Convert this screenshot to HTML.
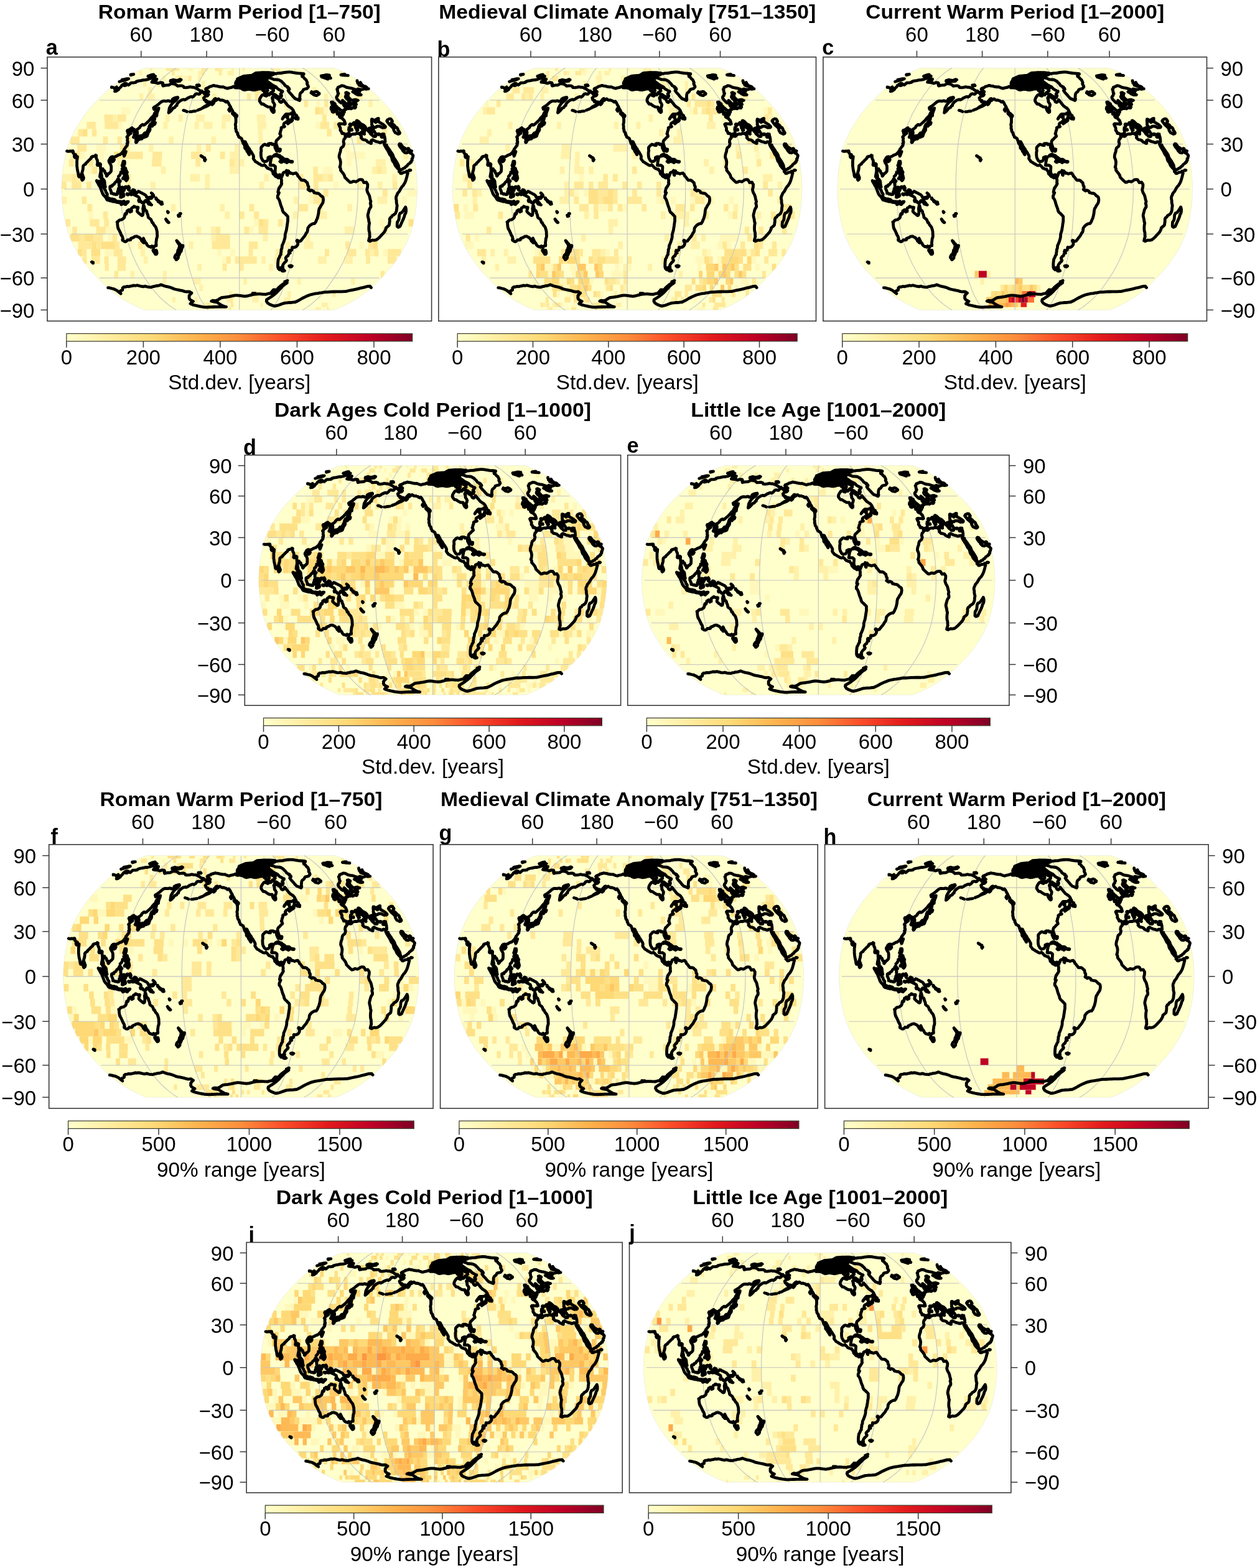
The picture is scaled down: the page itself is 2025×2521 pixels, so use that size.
<!DOCTYPE html><html><head><meta charset="utf-8"><title>Figure</title><style>html,body{margin:0;padding:0;background:#fff}svg{display:block}text{font-family:"Liberation Sans",Arial,sans-serif;fill:#000}</style></head><body>
<svg width="2025" height="2521" viewBox="0 0 2025 2521">
<defs>
<path id="ol" d="M532 -1000 L539 -996 L547 -992 L555 -987 L563 -982 L572 -976 L581 -970 L591 -963 L601 -955 L611 -948 L621 -939 L632 -931 L642 -922 L653 -913 L663 -903 L673 -894 L683 -884 L692 -874 L701 -864 L710 -854 L719 -844 L727 -833 L735 -823 L744 -812 L752 -801 L760 -790 L768 -779 L776 -768 L783 -757 L791 -746 L799 -735 L806 -723 L813 -712 L821 -700 L828 -689 L835 -677 L842 -665 L849 -653 L855 -641 L862 -630 L868 -618 L874 -606 L880 -594 L885 -581 L891 -569 L896 -557 L902 -545 L907 -533 L912 -520 L917 -508 L922 -496 L926 -483 L931 -471 L935 -459 L939 -446 L943 -434 L946 -422 L950 -409 L954 -397 L957 -384 L960 -372 L963 -360 L966 -347 L968 -335 L971 -322 L973 -310 L975 -298 L977 -285 L979 -273 L981 -260 L982 -248 L984 -236 L986 -223 L987 -211 L989 -198 L990 -186 L991 -174 L992 -161 L994 -149 L995 -136 L995 -124 L996 -112 L997 -99 L998 -87 L998 -74 L999 -62 L999 -50 L999 -37 L1000 -25 L1000 -12 L1000 0 L1000 12 L1000 25 L999 37 L999 50 L999 62 L998 74 L998 87 L997 99 L996 112 L995 124 L995 136 L994 149 L992 161 L991 174 L990 186 L989 198 L987 211 L986 223 L984 236 L982 248 L981 260 L979 273 L977 285 L975 298 L973 310 L971 322 L968 335 L966 347 L963 360 L960 372 L957 384 L954 397 L950 409 L946 422 L943 434 L939 446 L935 459 L931 471 L926 483 L922 496 L917 508 L912 520 L907 533 L902 545 L896 557 L891 569 L885 581 L880 594 L874 606 L868 618 L862 630 L855 641 L849 653 L842 665 L835 677 L828 689 L821 700 L813 712 L806 723 L799 735 L791 746 L783 757 L776 768 L768 779 L760 790 L752 801 L744 812 L735 823 L727 833 L719 844 L710 854 L701 864 L692 874 L683 884 L673 894 L663 903 L653 913 L642 922 L632 931 L621 939 L611 948 L601 955 L591 963 L581 970 L572 976 L563 982 L555 987 L547 992 L539 996 L532 1000 L-532 1000 L-539 996 L-547 992 L-555 987 L-563 982 L-572 976 L-581 970 L-591 963 L-601 955 L-611 948 L-621 939 L-632 931 L-642 922 L-653 913 L-663 903 L-673 894 L-683 884 L-692 874 L-701 864 L-710 854 L-719 844 L-727 833 L-735 823 L-744 812 L-752 801 L-760 790 L-768 779 L-776 768 L-783 757 L-791 746 L-799 735 L-806 723 L-813 712 L-821 700 L-828 689 L-835 677 L-842 665 L-849 653 L-855 641 L-862 630 L-868 618 L-874 606 L-880 594 L-885 581 L-891 569 L-896 557 L-902 545 L-907 533 L-912 520 L-917 508 L-922 496 L-926 483 L-931 471 L-935 459 L-939 446 L-943 434 L-946 422 L-950 409 L-954 397 L-957 384 L-960 372 L-963 360 L-966 347 L-968 335 L-971 322 L-973 310 L-975 298 L-977 285 L-979 273 L-981 260 L-982 248 L-984 236 L-986 223 L-987 211 L-989 198 L-990 186 L-991 174 L-992 161 L-994 149 L-995 136 L-995 124 L-996 112 L-997 99 L-998 87 L-998 74 L-999 62 L-999 50 L-999 37 L-1000 25 L-1000 12 L-1000 0 L-1000 -12 L-1000 -25 L-999 -37 L-999 -50 L-999 -62 L-998 -74 L-998 -87 L-997 -99 L-996 -112 L-995 -124 L-995 -136 L-994 -149 L-992 -161 L-991 -174 L-990 -186 L-989 -198 L-987 -211 L-986 -223 L-984 -236 L-982 -248 L-981 -260 L-979 -273 L-977 -285 L-975 -298 L-973 -310 L-971 -322 L-968 -335 L-966 -347 L-963 -360 L-960 -372 L-957 -384 L-954 -397 L-950 -409 L-946 -422 L-943 -434 L-939 -446 L-935 -459 L-931 -471 L-926 -483 L-922 -496 L-917 -508 L-912 -520 L-907 -533 L-902 -545 L-896 -557 L-891 -569 L-885 -581 L-880 -594 L-874 -606 L-868 -618 L-862 -630 L-855 -641 L-849 -653 L-842 -665 L-835 -677 L-828 -689 L-821 -700 L-813 -712 L-806 -723 L-799 -735 L-791 -746 L-783 -757 L-776 -768 L-768 -779 L-760 -790 L-752 -801 L-744 -812 L-735 -823 L-727 -833 L-719 -844 L-710 -854 L-701 -864 L-692 -874 L-683 -884 L-673 -894 L-663 -903 L-653 -913 L-642 -922 L-632 -931 L-621 -939 L-611 -948 L-601 -955 L-591 -963 L-581 -970 L-572 -976 L-563 -982 L-555 -987 L-547 -992 L-539 -996 L-532 -1000Z"/>
<clipPath id="cp"><use href="#ol"/></clipPath>
<path id="gr" d="M-787 735H787M-946 372H946M-985 0H985M-946 -372H946M-787 -735H787M-355 1000 L-365 992 L-376 982 L-388 970 L-401 955 L-414 939 L-428 922 L-442 903 L-455 884 L-467 864 L-479 844 L-490 823 L-501 801 L-512 779 L-522 757 L-532 735 L-542 712 L-552 689 L-561 665 L-570 641 L-579 618 L-586 594 L-594 569 L-601 545 L-608 520 L-614 496 L-620 471 L-626 446 L-631 422 L-636 397 L-640 372 L-644 347 L-647 322 L-650 298 L-653 273 L-655 248 L-657 223 L-659 198 L-661 174 L-662 149 L-664 124 L-665 99 L-665 74 L-666 50 L-666 25 L-667 0 L-666 -25 L-666 -50 L-665 -74 L-665 -99 L-664 -124 L-662 -149 L-661 -174 L-659 -198 L-657 -223 L-655 -248 L-653 -273 L-650 -298 L-647 -322 L-644 -347 L-640 -372 L-636 -397 L-631 -422 L-626 -446 L-620 -471 L-614 -496 L-608 -520 L-601 -545 L-594 -569 L-586 -594 L-579 -618 L-570 -641 L-561 -665 L-552 -689 L-542 -712 L-532 -735 L-522 -757 L-512 -779 L-501 -801 L-490 -823 L-479 -844 L-467 -864 L-455 -884 L-442 -903 L-428 -922 L-414 -939 L-401 -955 L-388 -970 L-376 -982 L-365 -992 L-355 -1000M-177 1000 L-182 992 L-188 982 L-194 970 L-200 955 L-207 939 L-214 922 L-221 903 L-228 884 L-234 864 L-240 844 L-245 823 L-251 801 L-256 779 L-261 757 L-266 735 L-271 712 L-276 689 L-281 665 L-285 641 L-289 618 L-293 594 L-297 569 L-301 545 L-304 520 L-307 496 L-310 471 L-313 446 L-315 422 L-318 397 L-320 372 L-322 347 L-324 322 L-325 298 L-326 273 L-327 248 L-329 223 L-330 198 L-330 174 L-331 149 L-332 124 L-332 99 L-333 74 L-333 50 L-333 25 L-333 0 L-333 -25 L-333 -50 L-333 -74 L-332 -99 L-332 -124 L-331 -149 L-330 -174 L-330 -198 L-329 -223 L-327 -248 L-326 -273 L-325 -298 L-324 -322 L-322 -347 L-320 -372 L-318 -397 L-315 -422 L-313 -446 L-310 -471 L-307 -496 L-304 -520 L-301 -545 L-297 -569 L-293 -594 L-289 -618 L-285 -641 L-281 -665 L-276 -689 L-271 -712 L-266 -735 L-261 -757 L-256 -779 L-251 -801 L-245 -823 L-240 -844 L-234 -864 L-228 -884 L-221 -903 L-214 -922 L-207 -939 L-200 -955 L-194 -970 L-188 -982 L-182 -992 L-177 -1000M0 1000 L0 992 L0 982 L0 970 L0 955 L0 939 L0 922 L0 903 L0 884 L0 864 L0 844 L0 823 L0 801 L0 779 L0 757 L0 735 L0 712 L0 689 L0 665 L0 641 L0 618 L0 594 L0 569 L0 545 L0 520 L0 496 L0 471 L0 446 L0 422 L0 397 L0 372 L0 347 L0 322 L0 298 L0 273 L0 248 L0 223 L0 198 L0 174 L0 149 L0 124 L0 99 L0 74 L0 50 L0 25 L0 0 L0 -25 L0 -50 L0 -74 L0 -99 L0 -124 L0 -149 L0 -174 L0 -198 L0 -223 L0 -248 L0 -273 L0 -298 L0 -322 L0 -347 L0 -372 L0 -397 L0 -422 L0 -446 L0 -471 L0 -496 L0 -520 L0 -545 L0 -569 L0 -594 L0 -618 L0 -641 L0 -665 L0 -689 L0 -712 L0 -735 L0 -757 L0 -779 L0 -801 L0 -823 L0 -844 L0 -864 L0 -884 L0 -903 L0 -922 L0 -939 L0 -955 L0 -970 L0 -982 L0 -992 L0 -1000M177 1000 L182 992 L188 982 L194 970 L200 955 L207 939 L214 922 L221 903 L228 884 L234 864 L240 844 L245 823 L251 801 L256 779 L261 757 L266 735 L271 712 L276 689 L281 665 L285 641 L289 618 L293 594 L297 569 L301 545 L304 520 L307 496 L310 471 L313 446 L315 422 L318 397 L320 372 L322 347 L324 322 L325 298 L326 273 L327 248 L329 223 L330 198 L330 174 L331 149 L332 124 L332 99 L333 74 L333 50 L333 25 L333 0 L333 -25 L333 -50 L333 -74 L332 -99 L332 -124 L331 -149 L330 -174 L330 -198 L329 -223 L327 -248 L326 -273 L325 -298 L324 -322 L322 -347 L320 -372 L318 -397 L315 -422 L313 -446 L310 -471 L307 -496 L304 -520 L301 -545 L297 -569 L293 -594 L289 -618 L285 -641 L281 -665 L276 -689 L271 -712 L266 -735 L261 -757 L256 -779 L251 -801 L245 -823 L240 -844 L234 -864 L228 -884 L221 -903 L214 -922 L207 -939 L200 -955 L194 -970 L188 -982 L182 -992 L177 -1000M355 1000 L365 992 L376 982 L388 970 L401 955 L414 939 L428 922 L442 903 L455 884 L467 864 L479 844 L490 823 L501 801 L512 779 L522 757 L532 735 L542 712 L552 689 L561 665 L570 641 L579 618 L586 594 L594 569 L601 545 L608 520 L614 496 L620 471 L626 446 L631 422 L636 397 L640 372 L644 347 L647 322 L650 298 L653 273 L655 248 L657 223 L659 198 L661 174 L662 149 L664 124 L665 99 L665 74 L666 50 L666 25 L667 0 L666 -25 L666 -50 L665 -74 L665 -99 L664 -124 L662 -149 L661 -174 L659 -198 L657 -223 L655 -248 L653 -273 L650 -298 L647 -322 L644 -347 L640 -372 L636 -397 L631 -422 L626 -446 L620 -471 L614 -496 L608 -520 L601 -545 L594 -569 L586 -594 L579 -618 L570 -641 L561 -665 L552 -689 L542 -712 L532 -735 L522 -757 L512 -779 L501 -801 L490 -823 L479 -844 L467 -864 L455 -884 L442 -903 L428 -922 L414 -939 L401 -955 L388 -970 L376 -982 L365 -992 L355 -1000" fill="none" stroke="#c4c4c0" stroke-width="1.1" vector-effect="non-scaling-stroke"/>
<path id="co" d="M-202 -797l11 -7l8 2l10 -2l-7 -9l-3 -7l-7 -6l3 -6l15 -9l5 -6l13 -5l9 -5l9 4l10 1l7 4l6 1l11 3l10 -1l8 5l9 5l8 3l7 -4l6 -2l8 -2l8 -4l6 -5l8 11l6 1l6 -2l10 2l12 4l10 10l9 4l12 -4l8 -2l6 -1l10 3l11 4l12 -1l3 -8l7 5l3 -7l2 -11l-8 -15l4 -7l8 9l5 10l6 7l8 10l7 13l5 -3l2 -13l2 -11l8 2l6 11l3 13l-5 12l-9 -4l-6 0l4 11l-4 13l-9 4l-5 7l-6 13l-5 15l-1 15l3 8l9 18l9 0l13 14l13 10l15 1l3 19l5 15l8 11l4 -4l0 -14l-4 -17l5 -15l2 -15l-5 -14l-5 -9l0 -16l-4 -16l3 -9l8 2l7 0l11 11l6 3l6 17l3 8l6 4l6 -5l4 -10l2 -6l6 11l8 15l7 13l8 13l7 7l9 8l7 11l6 13l-1 10l-6 4l-6 9l-9 4l-12 0l-8 0l-5 7l-6 12l-6 11l-3 10l3 -7l6 -11l9 -9l10 3l2 6l-6 4l4 4l3 11l6 7l8 5l6 3l0 -15l4 7l1 4l-5 7l-9 8l-6 7l-6 6l-3 -10l5 -10l2 -4l-5 1l-5 5l-3 6l-7 3l-5 7l-2 7l0 8l3 7l2 3l-3 3l-4 1l-7 2l-5 5l0 5l0 8l-3 11l-1 3l-1 9l-1 10l-2 2l5 14l1 8l-5 6l-7 10l-6 10l-6 7l-3 11l0 15l3 15l3 11l3 16l0 13l-1 8l-4 2l-4 -12l-3 -10l-3 -9l0 -13l-3 -7l-6 -9l-6 4l-5 -9l-7 1l-5 -1l-5 3l1 8l1 5l-5 -1l-6 -1l-6 -4l-7 -3l-6 5l-5 9l-5 6l-3 8l0 13l1 13l-2 12l0 23l1 14l2 12l5 12l2 7l6 7l4 3l7 -3l6 -2l4 -7l3 -9l0 -13l5 -4l8 -4l5 1l2 10l-4 11l-1 14l-2 9l0 12l-2 14l4 1l8 0l8 -1l6 6l4 5l0 12l-1 19l0 15l1 6l3 10l4 7l5 8l5 -4l5 -6l6 2l6 10l3 5l0 -8l4 -8l2 -10l1 -5l4 -5l5 -2l5 -1l4 -7l1 -6l4 5l-1 13l-2 5l1 13l3 4l1 -10l0 -12l4 -7l1 -7l2 7l7 8l2 5l6 -1l8 6l6 -4l5 -2l7 -2l2 7l5 6l3 13l4 4l5 10l5 9l5 10l7 1l8 0l7 5l7 11l5 5l3 23l4 8l0 15l-3 10l6 6l6 6l5 -7l6 3l8 7l3 11l5 1l9 4l10 1l8 9l7 12l7 5l4 7l2 18l-1 13l-2 14l-4 10l-6 12l-5 15l-5 10l-3 19l-1 18l-3 23l-4 21l-5 16l-3 12l-7 15l-8 1l-7 4l-9 8l-7 10l-7 14l-2 23l-2 10l-6 11l-4 12l-6 14l-6 10l-9 17l-5 10l-7 3l-4 1l-4 -5l-5 -5l-2 5l4 11l2 11l-1 9l-5 12l-6 8l-8 3l-8 1l-4 -2l-1 12l-2 13l-6 3l-8 -2l-2 12l4 4l3 6l-5 2l-4 7l-3 14l-7 6l-6 12l1 10l4 9l-3 9l-8 10l-7 13l-3 9l-1 8l2 7l-6 2l-7 4l-2 12l-4 0l-3 -5l-3 -7l-4 -14l0 -19l1 -18l2 -21l5 -12l4 -16l5 -9l0 -15l2 -10l0 -15l4 -14l1 -21l3 -8l5 -18l3 -13l4 -19l2 -16l0 -17l3 -16l4 -19l2 -19l2 -18l1 -13l3 -26l0 -23l0 -15l-5 -8l-6 -9l-6 -9l-8 -10l-5 -15l-1 -11l-3 -11l-4 -15l-3 -14l-4 -21l-3 -13l-5 -13l-4 -6l0 -14l4 -15l2 -6l2 -6l-3 -1l-3 -3l1 -12l2 -10l2 -12l2 -5l4 -5l2 -7l4 -8l4 -13l-2 -7l1 -16l-1 -14l-3 -7l-3 -11l-1 -7l-5 -4l-4 8l-1 11l-3 -3l-4 -5l-7 -3l-4 -5l-5 -11l-4 -3l-3 -7l0 -9l-4 -10l-6 -12l-1 -5l-4 1l-8 -3l-4 -5l-4 0l-5 -8l-6 -11l-7 -9l-5 4l-6 1l-7 -3l-6 -7l-5 -3l-7 -7l-7 -7l-7 -5l-4 -9l-4 -7l-4 -10l2 -14l-2 -11l-4 -10l-5 -13l-5 -11l-5 -9l-2 -10l-5 -8l-3 -7l-5 -10l-2 -9l-5 -14l-4 -12l-5 -1l1 11l1 10l4 10l4 10l3 15l4 11l5 17l3 8l2 16l-3 -7l-5 -14l-5 -9l-1 -13l-7 -5l-4 -10l1 -6l-4 -19l-6 -11l-3 -14l-3 -13l-3 -12l-4 -5l-4 -3l-7 -4l-2 -10l-5 -12l0 -8l-3 -10l-3 -3l-3 -10l0 -11l-3 -8l1 -13l-1 -13l-1 -6l3 -19l0 -20l0 -9l-3 -17l6 2l3 -8l-1 -6l-7 -8l-4 -7l-7 -5l-3 -7l-2 -8l-4 -11l-6 -13l-1 -8l-5 -12l-5 -14l-4 -12l-6 -10l-6 6l-4 -3l-6 -8l-6 -2l-7 -4l-8 1l-7 -5l-5 -6l-7 5l-6 8l-7 5l-4 3l3 -15l5 -8l-6 4l-5 9l-5 8l-4 10l-7 8l-5 8l-7 7l-7 7l-7 4l-7 4l-6 4l-8 5l6 -7l8 -8l8 -6l9 -9l6 -7l4 -12l-5 -1l-5 -2l-5 2l-6 0l1 -13l-6 1l-5 -7l-1 -8l-2 -6l5 -7l4 -9l7 0l7 -4l4 -9l-2 -3l-6 1l-5 -2l-6 1l-4 -2l0 -5l-5 -5M283 -967l-8 0l-8 1l-9 1l-8 2l-9 2l-9 3l-9 0l-10 1l-7 2l-7 1l-8 5l-6 5l-8 4l-7 9l-3 6l5 7l9 3l13 9l8 0l7 1l12 2l8 6l8 7l7 11l7 10l5 12l8 7l9 6l-2 6l8 5l2 8l-7 10l5 12l8 13l7 11l7 13l7 11l7 9l6 2l9 6l8 5l2 -5l1 -8l-2 -11l1 -11l0 -11l2 -11l4 -8l6 -5l4 -8l4 -12l8 -4l11 -3l5 -7l4 -9l-2 -8l-4 -10l-2 -8l2 -7l-2 -8l-3 -9l-2 -7l-9 -10l-3 -9l-10 -9l-1 -8l3 -5l7 -5l0 -4l-8 -2l-7 -1l-11 -1l-10 -1l-9 -2l-8 -2l-8 -2l-7 -2l-11 -1M150 -881l12 9l9 4l9 7l9 4l9 7l7 4l6 9l5 9l10 8l10 9l6 3l-3 9l-5 7l-3 7l6 11l-1 9l-3 9l-10 -6l-10 -5l-7 -8l-8 -8l-9 -2l-9 -3l-4 -9l8 -7l8 -8l-2 -11l-8 -10l-10 -6l-10 -5l-10 0l-12 3l-11 -7l-7 -8l-4 -13l0 -11l11 -2l12 -1l9 2M193 -958l-8 -2l-7 -1l-7 -1l-7 -1l-10 0l-10 0l-9 1l-10 1l-7 3l-8 2l-6 3l-6 3l-4 6l-8 5l0 6l6 7l8 6l10 5l10 6l8 1l7 1l12 1l6 -5l3 -9l0 -6l3 -7l11 -5l9 -3l6 -3l4 -5l4 -9M103 -950l-7 0l-6 1l-9 6l6 8l10 4l7 -4l-1 -15M145 -908l-10 0l-7 0l-8 -1l-10 1l-9 2l-7 2l-7 3l3 7l12 4l7 1l8 0l7 0l8 0l11 -1l6 -2l-1 -9l-3 -7M112 -885l-8 1l-7 0l-2 10l6 10l3 -8l8 3l3 -10l-3 -6M87 -883l-11 1l-8 12l6 6l10 7l6 -7l2 -8l-5 -11M96 -838l-9 5l-3 8l8 2l5 -6l-1 -9M100 -899l-11 -2l-8 -3l-8 -2l-5 4l9 8l13 1l9 -1l1 -5M55 -902l-9 -6l-13 -1l-13 2l-11 4l10 9l7 2l8 1l11 -2l9 -4l1 -5M16 -916l-12 -4l-13 9l9 5l11 -5l5 -5M-19 -887l13 -2l12 5l11 5l-5 9l-10 9l-10 5l-12 -7l-2 -11l3 -13M8 -875l13 -2l8 3l8 2l8 -2l9 -2l6 7l11 10l-4 10l7 10l-7 7l-12 -1l-10 3l-15 1l-10 -6l-10 -3l-4 -14l4 -4l-6 -4l2 -9l2 -6M61 -933l-10 0l9 8l11 3l1 -6l-11 -5M142 -789l9 -8l12 11l5 8l-10 -1l-7 10l-11 -6l2 -14M297 -589l2 -11l1 -12l2 -13l3 -12l4 5l1 14l7 5l5 5l2 12l6 7l0 11l-5 -2l-4 -7l-4 6l-6 -8l-9 0l-5 0M-17 -598l-7 -4l-7 -10l-7 -9l-2 -6l5 2l8 7l6 8l4 12M-52 -666l-5 1l-3 10l5 11l2 -9l1 -13M-144 -714l-5 2l-8 8l4 6l6 -8l3 -8M191 -272l5 -9l7 -5l9 0l7 6l8 3l6 9l7 5l8 10l2 4l-7 2l-10 1l0 -9l-5 -4l-4 -9l-6 -2l-7 -4l-7 -3l-6 4l-7 1M249 -231l6 -13l5 -2l9 0l6 7l7 8l-3 4l-6 1l-7 8l-3 -6l-8 -2l-6 -5M228 -228l7 -1l5 6l-6 2l-6 -7M289 -229l9 1l-1 5l-8 0l0 -6M226 -331l4 1l-1 14l-3 4l0 -19M-196 -250l5 6l-4 10l-2 -9l1 -7M-216 -275l2 1l-1 2l-1 -3M-200 -260l4 2l-2 3l-2 -5M-208 -268l3 4l-2 0l-1 -4M280 636l9 -3l7 4l-6 7l-7 -3l-3 -5M243 649l-4 27l6 3l9 -3l-5 -6l-4 -10l-2 -11M240 650l-5 9l-9 9l-7 -10l-3 -13l6 6l6 6l5 -4l7 -3M-213 -665l-7 5l-6 2l-8 6M-247 -645l-12 2l-10 3l-9 1M-295 -640l-10 -7l-10 -4M-207 -802l-4 -9l-10 -2l-7 -6l-6 -7l-7 -6l-8 -5l-7 -4l-12 -1l-9 -3l-11 4l-13 2l-11 -1l-3 -9l-8 -5l-12 0l-13 2l-5 -7l-8 -8l-10 -3l-13 -2l-13 12l-9 1l-10 1l-14 5l-2 -9l2 -10l-2 -7l-10 -2l-16 7l-8 -5l-10 -2l-9 -1l-8 -2l4 -8l12 -6l10 -4l2 -7l-8 0l-8 -1l-3 -5l-3 -4l-12 4l-15 8l-13 4l-12 1l-16 5l-13 3l-12 5l-3 7l-13 3l-13 0l-10 13l-5 6l-5 -6l-8 2l-2 7l-9 1l12 -16l-6 -2l-9 6l-11 12l-4 10l-10 13l-4 10l-13 13l-8 2l11 -9l3 -9l-5 -5l3 -8l-2 -5l-11 15l-1 -5l-4 -4l-5 -3l-6 0M726 -829l-7 1l-6 2l-10 -5l-2 3l-11 5l-10 0l-12 -5l-3 1l13 15l-2 7l-7 4l-9 0l-13 -1l6 14l14 8l2 -5l8 -1l7 7l-9 1l-5 0l-9 -5l-11 -11l-13 -10l4 -4l15 5l10 -1l0 -7l-9 -9l-12 -6l-16 -8l-14 -3l-13 -4l-16 -12l-12 -2l-5 5l-7 4l-8 5l-1 10l-4 6l3 11l1 13l4 11l-3 6l-1 10l-4 6l-3 6l0 9l6 14l7 10l5 8l7 8l5 1l3 -3l1 -8l2 -6l-2 -4l6 9l6 7l6 9l6 9l5 8l5 9l6 0l-1 -7l5 -2l-2 -10l-5 -11l-3 -8l3 -4l0 -8l-6 -6l-6 -6l-6 -9l-3 -9l1 -7l3 -9l0 -8l-2 -11l5 -2l11 9l-2 4l-1 9l-1 9l4 11l8 11l2 5l9 6l6 2l3 -4l6 -2l6 -1l6 4l7 3l-5 0l-2 4l-7 0l-8 1l-4 3l4 6l4 4l4 3l3 8l1 4l-4 0l-7 -7l-3 2l1 7l5 9l2 4l3 6l-2 3l-1 6l-4 0l-3 -3l-5 -2l-3 4l-3 3l-5 4l-6 -4l-4 -1l-3 4l-3 -1l-2 -4l-3 0l-3 -5l-4 -5l-2 -6l0 -5l2 -2l-5 -6l-3 -9l-3 1l-1 6l-1 2l-1 3l5 12l5 6l4 9l3 5l-2 4l-3 2l-4 -1l-4 1l-2 5l2 7l0 5l0 5l-2 3l-2 2l-3 3l2 8l-1 4l-3 2l0 4l-2 1l-4 -1l-4 -4l3 6l3 7l-6 1l-5 -3l-4 3l4 8l8 5l5 4l4 8l5 5l2 7l3 11l2 13l-4 3l-7 -3l-9 0l-8 -1l-6 0l-3 5l3 10l2 7l4 10l1 12l-1 8l3 8l3 3l2 7l2 11l5 0l2 -2l6 3l2 5l2 4l3 3l1 -3l3 -4l2 -2l5 0l5 0l0 -6l4 -5l0 -8l1 -6l-3 -8l0 -8l1 -7l0 -5l5 -5l3 -6l-2 -8l-2 -6l1 -5l4 0l5 2l5 2l3 -5l2 -3l2 -5l3 -3l5 4l4 6l4 9l5 6l6 6l7 7l4 1l4 5l4 3l2 5l5 2l3 6l3 8l0 8l2 3l1 -6l1 -6l-1 -5l-4 -4l1 -9l4 2l4 2l-5 -7l-7 -5l-6 -5l-2 -5l-4 0l-8 -8l-6 -12l-7 -6l-5 -10l-1 -6l1 -5l4 0l2 8l2 3l1 -6l4 5l7 11l4 6l6 4l6 4l5 4l4 7l4 5l3 9l3 8l4 6l5 9l5 8l5 6l3 10l3 3l2 5l1 -5l3 3l-3 -8l2 -4l-4 -6l4 0l-1 -4l-7 -8l-3 -7l-4 -8l0 -5l6 5l-1 -5l3 -4l5 0l4 0l-1 4l3 1l3 -5l3 -1l4 -3l-6 -4l-2 -5l-5 -8l-1 -7l1 -7l-1 -8l1 -7l-2 -6l1 -9l0 -5l3 0l4 4l5 5l4 -2l1 8l-3 1l9 10l3 -4l3 -3l5 -2l-6 -3l-4 -3l-1 -7l5 -5l5 -5l5 -1l-1 9l1 6l1 7l-3 1l4 6l6 5l9 8l8 7l5 6l9 12l0 4l-3 5l-6 -1l-7 2l-6 -4l-7 -6l-7 -3l-4 1l-6 -1l-4 3l-3 6l-9 0l0 4l-5 6l-4 4l0 7l5 7l4 7l-3 2l6 5l3 10l6 4l5 1l6 5l1 -7l5 2l7 6l5 -1l4 -7l5 2l4 0l0 10l3 10l2 14l1 11l0 10l1 8l-1 3l-6 2l-4 -2l-5 -3l-6 2l-3 5l-6 0l-7 -5l-12 -3l-7 -5l-7 -5l-8 -6l-7 7l1 10l-1 14l-4 -2l-9 -7l-8 -5l-5 -10l-10 -6l-7 -1l-4 -2l-5 -7l-5 -7l2 -8l0 -6l-4 -6l-3 -7l1 -8l-4 -2l-4 -1l-4 4l-7 -2l-5 1l-5 5l-9 -2l-5 2l-7 3l-6 7l-3 6l-4 3l-5 -3l-6 2l-8 -9l-2 1l-1 6l0 15l-3 6l-4 5l-2 10l-1 13l3 12l-1 10l-4 15l-6 6l-5 7l-3 14l-1 15l-4 15l-3 20l0 15l3 8l3 13l2 16l-1 17l-1 13l-3 11l3 6l2 9l0 12l4 7l5 9l5 9l5 11l3 10l2 12l6 9l5 7l9 13l8 11l3 2l7 -2l7 -6l5 -1l7 2l5 2l5 -4l6 -5l6 -7l4 -2l6 -1l8 1l3 6l4 10l3 9l5 -2l5 -1l3 -1l4 9l4 10l0 13l-1 13l-2 8l-1 11l2 12l3 12l6 15l3 11l2 11l1 8l2 12l3 16l-3 14l3 16l0 15l-6 12l-4 13l-3 18l-3 16l-1 14l2 12l3 19l1 16l3 11l-2 18l-1 18l0 16l1 15l2 8l1 11l0 12l1 16l-3 14l-2 12l-1 7l4 2l3 3l6 -5l9 -5l8 2l9 -2l5 -3l7 -7l7 -9l8 -12l8 -13l5 -8l8 -13l4 -10l5 -15l1 -11l6 -7l7 -8l5 -8l2 -19l1 -12l0 -19l4 -12l6 -4l5 -13l9 -7l8 -10l5 -16l2 -12l1 -19l2 -19l-2 -10l-2 -17l0 -16l-2 -12l0 -13l2 -10l3 -8l3 -13l4 -8l5 -8l5 -12l5 -15l6 -13l7 -10l6 -14l5 -14l4 -15l4 -21l3 -16l2 -15l2 -6l-2 -6l1 -10l-5 -2l-5 7l-5 2l-7 1l-7 5l-5 4l-5 0l-6 -14l-3 -1l3 -5l-4 -11l-6 -9l-5 -8l-6 -11l-3 -5l-3 -10l-5 -18l-6 -8l-4 -14l-2 -15l-4 -15l-7 -11l-4 -11l-4 -13l-4 -12l-5 -10l-4 -10l-5 -12l-5 -16l-1 -3l4 10l5 9l5 7l0 -10l-1 -11l2 13l4 6l5 11l7 14l5 13l6 11l7 17l3 14l5 14l8 17l6 15l5 13l4 12l2 16l4 16l2 7l5 0l4 -3l7 -6l5 -6l6 -2l4 -7l5 -7l5 -3l3 -9l4 -6l4 -4l6 -5l1 -7l5 0l1 -11l4 -4l-1 -13l3 -4l2 -10l2 -13l-4 -7l-4 -9l-4 -2l-5 -3l-5 -7l-3 -9l-1 -11l-2 3l-1 5l-1 5l-2 9l-4 4l-6 -1l-6 -1l-2 -8l-1 -11l-3 -4l0 14l-5 -10l-4 -12l-4 -5l-5 -10l-5 -10l-2 -8l1 -6l2 -3l4 2l3 0l2 7l4 7l5 10l4 3l5 5l6 6l6 4l4 -1l4 -5l4 1l3 10l2 6l7 2l5 2M-970 -314l6 2l5 0l6 -2l5 2l7 -3l5 0l1 7l0 10l4 5l2 5l3 5l5 -1l-2 6l-5 1l-1 4l2 10l5 5l5 -1l4 -4l2 -5l-1 14l-1 13l-1 7l0 11l0 12l0 13l0 7l1 10l1 12l1 10l1 10l2 8l1 10l1 9l1 10l2 9l3 3l4 -4l1 -6l4 -4l3 -14l3 -3l1 -14l3 -11l1 -10l1 -14l0 -10l3 -6l5 -6l6 -4l1 -6l6 -9l6 -8l6 -10l6 -8l5 -6l2 -10l5 -6l5 1l4 -4l6 -1l4 -7l4 3l-1 14l1 6l2 9l3 7l2 12l0 12l-2 16l2 5l4 0l5 -7l4 -7l4 5l-1 13l1 18l1 13l0 16l-2 15l-2 15l-1 13l3 3l3 10l3 8l1 12l1 12l1 10l3 11l3 7l4 7l5 6l4 -1l-2 -14l-2 -16l0 -10l-2 -12l-5 -8l-3 -7l-5 -3l-1 -8l0 -12l-1 -8l-3 -13l2 -16l3 -12l2 -10l3 -1l1 10l4 1l5 7l1 9l3 10l4 1l2 7l0 13l2 2l5 -10l5 -11l4 -2l6 -9l4 -7l1 -15l0 -15l0 -12l-2 -10l-3 -9l-5 -11l-3 -10l0 -8l5 -12l3 -9l4 -6l4 -4l5 -1l3 1l1 8l1 7l3 -11l3 -2l5 -4l4 -1l4 -5l3 -3l3 -1l5 -4l5 -1l3 -4l5 -5l5 -8l3 -4l4 -9l4 -7l1 -9l3 -4l3 -6l3 -7l5 -8l3 -7l1 -10l-2 -5l4 -6l0 -10l-2 -5l0 -9l1 -15l-4 -8l5 -10l6 -8l6 -7l6 -5l0 -5l-6 -1l-5 2l-6 4l0 -6l-2 -9l-2 -4l2 -7l4 0l5 -4l6 -6l6 -7l5 -3l1 5l-6 10l-3 10l3 -2l5 -8l6 -2l4 -2l3 4l1 4l-5 8l1 8l3 4l2 6l-3 8l-1 12l-4 12l2 2l5 -3l5 -3l4 -3l3 -9l2 -10l1 -10l-1 -10l-2 -8l0 -9l6 -5l6 -7l4 -4l3 -10l4 -6l5 -6l5 -4l2 3l3 2l5 -2l7 -9l7 -9l9 -12l8 -12l5 -11l6 -10l7 -9l5 -12l2 -9l5 -12l6 -9l2 -11l-3 -3l-2 -7l-5 1l-6 5l0 -5l-2 -7l4 -5l7 -6l10 -10l11 -14l8 -10l7 -7l7 -4l7 0l7 1l6 0l6 -4l7 1l4 5l9 -3l6 -5l1 -11l9 -8l6 -3l6 -2l8 -2l1 6l-6 9l-3 7l-7 9l-9 9l-6 10l-6 11l-6 15l-5 14l-2 18l-2 20l6 -6l7 -10l6 -10l5 -11l11 -7l4 -11l7 -5l0 -9l4 -9l6 -10l8 -9l7 -7l6 -3l8 -3l5 4l9 -7l8 -9l6 -3l8 -6l7 -2l5 4l9 -8l7 -14l8 -6l6 1l6 3l5 -2l3 -8l5 -5l5 -1l4 -2M-574 -422l7 -8l5 -9l5 -1l6 -1l5 0l4 -5l5 -10l5 -8l-2 8l8 -6l7 -12l4 -12l4 -12l4 -13l4 0l0 8l0 10l-1 7l-4 10l-4 7l-3 13l-3 10l0 5l-3 5l-3 2l-1 -4l-3 2l-3 6l-3 1l-5 -1l-2 5l-4 1l-4 9l-2 -4l1 -10l-5 -1l-5 3l-6 3l-5 2l-3 0M-574 -420l3 3l0 10l-6 18l-4 5l-2 -5l3 -12l-2 -6l0 -6l5 -5l3 -2M-568 -417l5 -6l6 -2l3 5l-4 7l-6 3l-4 3l0 -10M-508 -514l3 -13l4 -9l5 0l4 -13l5 -13l3 9l4 7l7 -3l-3 13l-8 5l-6 11l-6 -8l-6 8l-6 6M-485 -569l7 -8l0 7l2 -17l2 -13l5 -8l4 2l1 -18l3 -15l5 -16l2 -14l-3 3l-3 13l-6 9l-4 16l-5 20l-4 14l-3 13l-3 12M-651 -285l3 -15l5 -10l5 0l-3 12l-4 17l-3 9l-2 -7l-1 -6M-718 -238l6 -10l5 -1l3 6l-4 11l-6 6l-4 -3l0 -9M-653 -229l7 0l1 14l-2 13l-3 6l-1 16l5 4l6 5l1 15l-4 -5l-4 -8l-5 -3l-4 -5l-1 -8l-3 -11l3 -10l4 -23M-655 -86l3 -11l6 0l2 -10l6 -3l5 -12l5 31l-3 13l-5 9l-6 -9l-2 -15l-5 2l-6 5M-637 -155l6 17l-5 13l-3 -10l2 -20M-642 -138l1 10l-3 9l-1 -11l3 -8M-651 -141l5 -2l-3 13l-3 -1l1 -10M-647 -135l3 11l-3 11l-3 -10l3 -12M-656 -167l3 5l-3 11l-4 -15l4 -1M-680 -104l7 -11l7 -19l-1 -7M-728 -19l4 -6l8 1l3 -11l8 -5l6 -15l6 -7l4 -6l4 -13l4 -6l3 8l4 10l4 3l-5 9l-4 5l2 11l0 12l4 17l-5 2l-3 10l1 10l-5 9l-1 12l-2 14l-8 1l-6 -6l-7 2l-3 -5l-5 -1l-4 0l0 -14l-3 -10l-3 -10l-1 -8l0 -13M-803 -69l6 5l7 0l4 11l7 13l5 14l4 2l5 8l4 10l4 11l4 7l3 17l5 7l2 6l-1 14l0 16l-4 0l-3 1l-5 -11l-7 -10l-7 -15l-2 -10l-4 -15l-3 -12l-3 -11l-3 -11l-5 -9l-3 -10l-4 -10l-4 -9l-2 -9M-747 84l4 -11l7 1l6 4l7 6l6 -3l5 2l6 3l5 1l5 8l1 12l-7 -4l-10 0l-8 -4l-8 -2l-10 -5l-4 -1l-5 -7M-692 100l4 4l-3 5l-4 -5l3 -4M-686 104l3 -2l0 8l-3 -1l0 -5M-681 105l7 -3l5 3l-4 4l-7 3l-1 -7M-665 105l9 -1l7 -4l1 7l-8 3l-9 0l0 -5M-669 118l6 -1l4 8l-6 3l-4 -10M-644 126l5 -11l3 -8l8 -3l3 0l-3 6l-7 9l-5 9l-4 -2M-669 68l1 -16l0 -9l-4 -8l2 -13l2 -12l0 -12l4 -8l4 -6l7 4l8 1l3 -8l4 -1l-3 13l-7 2l-8 -1l-5 1l-3 5l0 10l5 1l6 -1l5 0l-4 5l-5 7l3 9l2 9l2 15l-3 6l-4 -4l-1 -10l-3 -12l-3 1l0 19l1 13l-6 0M-624 -22l3 7l2 8l-4 7l3 11l-4 -6l-2 -15l2 -12M-621 40l7 -5l8 5l-2 7l-8 -4l-5 -3M-633 40l7 1l-1 7l-5 -2l-1 -6M-605 17l7 -12l6 4l4 5l1 18l4 9l4 -8l6 -6l4 -8l7 3l7 8l5 2l9 8l5 3l6 5l7 12l1 8l7 6l4 8l-4 5l3 13l4 9l6 8l3 11l5 3l-6 -2l-10 -4l-6 -12l-5 -11l-7 -8l-6 8l-1 10l-4 3l-9 -2l-6 -13l-6 3l-5 0l-2 -10l5 -10l-3 -14l-8 -8l-9 -6l-9 -7l-4 -2l-2 -10l6 -5l-5 -2l-5 -9l-4 -3M-509 69l10 -1l5 -6l6 -10l-2 16l-6 10l-9 -1l-4 -8M-495 33l6 7l6 12l1 8M-469 74l3 7l0 6l-4 -6l1 -7M-462 89l8 9l11 10l-2 6l-12 -10l-5 -15M-445 115l7 0l4 9l-6 1l-5 -10M-437 108l2 10l-1 1l-2 -9l1 -2M-414 249l8 14l9 14l-3 0l-9 -13l-5 -15M-404 186l4 6l-2 3l-2 -9M-344 217l5 -2l3 8l-6 3l-2 -9M-335 203l5 0l-4 5l-1 -5M-886 -122l4 4l3 13l3 12l-2 12l-6 8l-3 -8l0 -16l1 -25M-688 273l3 -3l3 -2l4 -8l6 -5l6 -1l5 -2l6 -6l6 -7l3 -10l1 -12l2 -12l4 -4l2 7l2 -6l2 -10l1 -11l5 -5l5 -5l5 10l2 9l4 -5l4 0l0 -9l-2 -9l2 -6l2 -5l3 -3l4 -2l5 -2l0 -6l5 3l5 4l5 1l4 -1l4 1l-1 10l-2 6l-2 13l0 6l6 9l5 7l6 6l6 8l4 3l4 -3l2 -11l1 -17l-1 -17l-1 -11l2 -11l1 -13l1 -3l3 10l2 13l2 11l2 10l5 0l4 9l1 12l4 12l2 11l1 12l4 6l4 4l6 6l4 11l4 17l4 0l3 11l4 10l6 10l4 8l2 10l3 14l2 15l0 17l1 12l-1 15l-3 10l-1 13l-1 12l-1 11l1 15l0 9l-7 0l-4 5l-3 7l0 4l-5 -6l-5 -8l-3 4l-2 6l-7 -5l-4 0l-6 -5l-6 -10l-3 -11l-5 -9l-3 0l-1 -9l-3 -8l-5 -17l0 10l3 12l-2 7l-1 2l6 6l-6 0l-4 -9l-3 -3l-3 -4l-1 -9l-5 -7l-4 -8l-5 -5l-5 -3l-7 -5l-7 1l-5 1l-8 8l-8 4l-6 4l-1 11l-7 2l-9 -2l-5 7l-4 6l-3 2l-6 -1l-7 -7l-4 -3l-1 -7l3 -4l-2 -11l-2 -10l-6 -13l-3 -13l-3 -9l-5 -16l-6 -14l2 2l-4 -13l-1 -12l-1 -13l0 -10l-2 -8M-486 504l9 5l6 -2l4 0l2 13l1 11l-3 8l-5 1l-7 -16l-6 -13l-1 -7M-353 427l5 7l5 9l4 11l3 -1l4 11l6 6l5 -4l3 1l-2 15l-3 4l-1 6l-2 11l-2 12l-4 -3l1 -8l-4 -11l-5 -6l3 -11l-1 -14l-4 -9l-8 -17l-3 -9M-344 502l6 5l5 10l-2 11l-3 11l-1 5l-4 5l-1 11l0 8l-4 9l-6 0l-7 -5l-3 -6l1 -8l4 -12l5 -6l4 -7l2 -10l1 -8l1 -8l2 -5M-357 579l4 1l0 4l-3 0l-1 -5M934 149l3 15l0 22l-2 12l-5 13l-3 17l-7 26l-8 25l-9 30l-6 5l-5 2l-5 -7l0 -18l1 -18l5 -10l4 -13l1 -16l1 -18l4 -15l6 -4l5 -4l6 -11l5 -12l6 -14l3 -7M956 -157l7 1l-4 3l-3 -4M551 -619l4 -3l6 1l4 -4l6 -2l6 0l3 -5l-5 -7l1 -10l-4 -3l-5 -1l-3 -7l-6 -9l-6 -4l-5 -10l-4 -4l-4 -2l-1 -5l0 -9l-3 -5l-6 0l-4 -11l-8 0l2 8l1 7l4 10l1 7l6 4l4 8l6 -1l4 10l5 7l0 2l-7 0l4 6l1 7l-2 5l6 2l5 3l-3 2l-4 4l1 9M535 -657l6 13l-4 1l-5 5l-5 2l-5 -4l-1 -9l0 -6l-5 -4l-1 -9l4 -3l-2 -8l6 -1l5 1l6 9l1 13M418 -779l-7 -9l-8 -8l2 -6l1 -3l9 8l4 -5l6 0l6 -5l8 4l4 7l6 6l-1 6l-5 2l-5 6l-4 3l-8 -3l-8 -3M463 -927l-3 -9l6 -2l5 -1l8 2l2 6l11 5l8 -1l1 5l-3 5l0 8l-12 -6l-8 -5l-9 -4l-6 -3M479 -939l3 -4l9 -1l15 3l0 7l-11 1l-16 -6M499 -925l8 -2l6 10l-8 -1l-6 -7M673 -859l-1 -7l-7 -10l1 -6l-4 -8l0 -7M-660 -904l12 -3l16 -5l9 0l-14 9l-18 6l-20 9M681 -882l2 8l5 10l8 10l8 4l-8 0l-10 -2l-13 -7M-719 -844l0 4M715 -842l-6 -6M571 -944l7 -3l7 -1l7 -1M-612 -947l8 -1l9 -1l-16 7M611 -939l-9 -1l-9 0l-11 -2l-11 -2M-514 -933l19 -11l12 -3l0 9l5 2l5 3l-13 8l-9 -2l-8 -3l-6 -1l-5 -2M-387 -897l15 -7l6 3l7 1l6 2l10 2l8 3l-15 3l-8 -1l-9 -2l-10 11l-4 -6l-7 -4l1 -5M-240 -859l13 -1l2 5l-10 2l-5 -6M-348 -899l15 -8l5 4l-14 6l-6 -2M685 -469l3 -5l7 3l5 -4l1 14l2 6l-5 -3l-10 -8l-3 -3M653 -507l4 -4l5 7l4 16l-2 2l-3 3l-3 -13l-5 -11M650 -525l2 -8l4 11l1 9l-4 -4l-3 -8M751 -438l5 -1l7 1l3 2l-4 2l-7 -1l-4 -3M798 -432l2 -6l7 -3l0 7l0 5l-7 0l-2 -3M629 -490l3 -3l1 6l-4 -3M599 -701l2 10l8 6l2 -1l-3 -4l-9 -11M601 -683l4 1l1 6l-3 -2l-2 -5M626 -711l5 6l0 5l-4 -6l-1 -5M834 -552l-5 -11l2 -4l3 -7l6 -4l5 -3l7 2l5 10l3 9l-5 8l3 10l13 15l6 12l9 8l5 11l0 9l5 7l6 16l-2 6l-7 3l-9 -6l-8 -5l-4 -10l-4 -11l-1 -10l3 -4l-7 -6l-8 -11l-8 -10l-4 -7l-9 -17M-739 816l11 2l10 4l12 4l16 12l23 27l-5 -15l3 -8l5 -3l6 -3l1 -7l0 -11l6 -8l11 -1l8 -4l11 2l8 -4l10 -2l7 -4l12 2l8 -3l12 4l13 5l11 2l9 -4l13 6l11 2l11 1l8 -5l10 -2l8 -4l10 -1l9 -3l10 -6l14 8l13 6l12 3l10 4l12 6l14 9l12 4l11 3l12 4l11 3l12 6l11 3l7 -1l8 -1l13 12l-5 7l-6 9l-3 8l1 7l-1 10l3 10l7 8l13 10l-5 4l-5 5l-6 10l11 7l8 4l9 3l14 5l8 2l7 3l8 1l7 2l12 2l9 0l8 0l8 -1l8 0l6 -1l6 0l12 -1l8 0l9 0l8 0l8 0l8 0l8 0l12 0l-13 -4l-8 -5l-8 -6l-12 -11l-11 -12l-14 -3l-9 -3l-9 -3l8 -5l8 1l9 1l7 -4l7 -5l9 -9l8 -7l13 -3l7 -1l7 -1l9 -3l9 -2l10 -3l9 -3l8 -2l8 -2l9 0l9 1l10 2l9 2l8 1l7 2l8 -2l8 -1l7 -3l8 -3l8 -3l8 -3l10 -2l10 -1l10 -1l9 0l8 1l7 1l9 0l9 1l8 -4l9 -3l14 -2l11 -8l11 -10l9 -12l9 -16l12 -15l11 -13l13 -11l9 -5l3 3l-8 9l-10 10l-9 11l-7 13l-10 14l-10 17l-15 20l-18 20l-15 14l-13 12l-1 12l6 15l6 6l7 6l7 4l6 4l7 3l7 3l8 -3l7 -2l11 -5l11 -6l10 -5l11 -5l10 -1l10 -2l9 0l9 -1l10 -2l9 -1l19 -13l22 -19l21 -15l20 -12l12 -5l12 -4l11 -3l11 -2l11 -3l10 -2l14 -4l9 -1l9 0l11 -1l10 -1l11 -1l10 0l10 -1l10 0l10 0l10 0l11 -1l10 0l20 -7l10 -3l11 -3l20 -6l11 -4l11 -5l11 -3l11 -4l17 -7l16 -1l3 7l3 4M192 833l10 0l2 16l-15 15l-10 -10l13 -21M74 863l8 0l8 0l-7 6l-9 -6M270 757l-8 6l-7 3M-831 603l8 3l0 7l-8 -10" fill="none" stroke="#000" stroke-width="4.8" stroke-linejoin="round" stroke-linecap="round" vector-effect="non-scaling-stroke"/>
<path id="fi" d="M-23 -874 L-13 -915 L24 -939 L69 -945 L91 -964 L130 -968 L165 -961 L176 -939 L164 -924 L156 -898 L187 -864 L208 -844 L195 -828 L161 -838 L130 -828 L114 -823 L94 -823 L46 -820 L13 -828 L-9 -838 L-23 -874Z" fill="#000" stroke="#000" stroke-width="3" stroke-linejoin="round" vector-effect="non-scaling-stroke"/>
<linearGradient id="yl" x1="0" x2="1" y1="0" y2="0"><stop offset="0" stop-color="#FFFFCC"/><stop offset="0.12" stop-color="#FFEDA0"/><stop offset="0.25" stop-color="#FED976"/><stop offset="0.38" stop-color="#FEB24C"/><stop offset="0.5" stop-color="#FD8D3C"/><stop offset="0.62" stop-color="#FC4E2A"/><stop offset="0.75" stop-color="#E31A1C"/><stop offset="0.88" stop-color="#BD0026"/><stop offset="1" stop-color="#800026"/></linearGradient>
</defs>
<rect width="2025" height="2521" fill="#fff"/>
<rect x="76" y="91.7" width="617.6" height="424.5" fill="none" stroke="#3a3a3a" stroke-width="1.6"/>
<g transform="translate(384.8 303.95) scale(0.285764 0.194421)">
<use href="#ol" fill="#FFFFCC"/>
<g clip-path="url(#cp)" fill="none">
<path stroke="#FFF8BA" stroke-width="24" d="M-291 -988h31M-153 988h15"/><path stroke="#FFF8BA" stroke-width="37" d="M-166 958h34"/><path stroke="#FFF8BA" stroke-width="46" d="M-324 -916h36M162 -916h18"/><path stroke="#FFF8BA" stroke-width="50" d="M-329 -869h19M174 -869h20"/><path stroke="#FFF8BA" stroke-width="58" d="M431 -706h23"/><path stroke="#FFF8BA" stroke-width="59" d="M-663 -647h48M473 -647h24"/><path stroke="#FFF8BA" stroke-width="60" d="M564 -587h24M-98 587h24"/><path stroke="#FFF8BA" stroke-width="61" d="M-682 -526h25M429 -526h26M556 -526h50M-758 526h51M-126 526h25M-51 526h26M808 526h26"/><path stroke="#FFF8BA" stroke-width="62" d="M-806 -341h54M591 -341h27M-896 -279h27M-788 -279h27M-217 -279h27M598 -279h108M603 -217h27M-855 -155h27M469 -155h55M528 -31h27M389 31h27M944 31h56M388 93h28M914 93h28M-849 217h27M849 217h28M81 279h28M788 279h27M-752 341h54M54 341h27M-740 403h26M-622 465h26M-544 465h26M674 465h26"/><path stroke="#FFF1A9" stroke-width="24" d="M-505 -988h15M-107 -988h15M-46 -988h15M15 -988h16M184 -988h45M306 -988h15M428 988h31M490 988h15"/><path stroke="#FFF1A9" stroke-width="37" d="M-563 -958h17M-232 -958h17M-66 -958h33M215 -958h33M348 -958h16M563 -958h16M-199 958h17M116 958h16M463 958h34"/><path stroke="#FFF1A9" stroke-width="46" d="M-486 -916h18M-432 -916h18M-360 -916h18M-234 -916h18M36 -916h18M72 -916h18M-378 916h18M-252 916h18M-72 916h18M72 916h36M252 916h36"/><path stroke="#FFF1A9" stroke-width="50" d="M-542 -869h19M-464 -869h19M-213 -869h19M39 -869h19M97 -869h19M-58 869h19M77 869h39M271 869h19M523 869h19"/><path stroke="#FFF1A9" stroke-width="53" d="M-514 -817h21M-185 -817h21M411 -817h20M657 -817h21M-226 817h21"/><path stroke="#FFF1A9" stroke-width="56" d="M-563 -762h22M-520 -762h44M-195 -762h22M-152 -762h22M476 -762h22M541 -762h44M606 -762h22M650 -762h43M-433 762h22M-260 762h43M22 762h21M325 762h21M628 762h22"/><path stroke="#FFF1A9" stroke-width="58" d="M726 -706h23M-613 706h23M-431 706h22"/><path stroke="#FFF1A9" stroke-width="59" d="M260 -647h24M-237 647h24M166 647h23"/><path stroke="#FFF1A9" stroke-width="60" d="M-711 -587h25M-417 -587h25M-343 -587h24M-245 -587h49M-98 -587h49M98 -587h49M-539 587h24M123 587h24M196 587h49M441 587h49M588 587h49"/><path stroke="#FFF1A9" stroke-width="61" d="M-429 -526h25M-253 -526h26M-202 -526h50M-101 -526h25M101 -526h51M808 -526h26M-556 526h26M202 526h51M733 526h25"/><path stroke="#FFF1A9" stroke-width="62" d="M104 -465h26M570 -465h52M-397 -403h27M-159 -403h27M0 -403h26M106 -403h26M-510 -341h26M-242 -341h27M-27 -341h27M-951 -279h27M-54 -279h54M924 -279h27M-685 -217h27M-27 -217h54M164 -217h28M767 -217h55M-441 -155h27M-55 -155h55M745 -155h27M800 -155h28M-997 -93h55M-914 -93h28M-637 -93h28M-277 -93h55M-194 -93h28M139 -93h27M471 -93h28M859 -93h27M-639 -31h28M-500 -31h28M-194 -31h27M111 -31h28M666 -31h28M777 -31h28M-997 93h27M305 93h27M776 93h55M-386 155h27M-110 155h27M441 155h28M607 155h27M-82 217h27M301 217h28M438 217h55M-242 341h27M-161 341h27M591 341h54M-159 403h27M132 403h27M370 403h27M-285 465h26M259 465h26M363 465h52"/><path stroke="#FFE998" stroke-width="24" d="M-413 -988h76M-214 -988h30M-138 -988h31M-184 988h16M-61 988h15"/><path stroke="#FFE998" stroke-width="37" d="M-381 -958h17M-215 -958h16M-116 -958h17M-182 958h16M-50 958h17"/><path stroke="#FFE998" stroke-width="46" d="M-342 -916h18M-288 -916h18M-54 916h18"/><path stroke="#FFE998" stroke-width="50" d="M-368 -869h20M77 -869h20"/><path stroke="#FFE998" stroke-width="53" d="M-205 -817h20M82 -817h41"/><path stroke="#FFE998" stroke-width="56" d="M-217 -762h22M43 -762h22M87 -762h21"/><path stroke="#FFE998" stroke-width="58" d="M250 -706h22M363 -706h23M477 -706h22M522 -706h23M-704 706h23M794 706h23"/><path stroke="#FFE998" stroke-width="59" d="M450 -647h23M-757 647h23M-686 647h47M-95 647h24M0 647h24"/><path stroke="#FFE998" stroke-width="60" d="M-760 -587h49M-686 -587h49M466 -587h24M-883 587h25M-833 587h49M-760 587h25M-686 587h49M-74 587h25M-25 587h123M711 587h24M833 587h50"/><path stroke="#FFE998" stroke-width="61" d="M-859 -526h51M-758 -526h76M455 -526h50M530 -526h26M631 -526h26M-884 526h25M-707 526h50M51 526h25M480 526h25M606 526h51M707 526h26M758 526h25M834 526h75"/><path stroke="#FFE998" stroke-width="62" d="M-907 -465h26M-829 -465h26M492 -465h26M803 -465h26M-952 -403h53M-767 -403h27M-687 -403h26M-635 -403h27M661 -403h26M-913 -341h53M-672 -341h54M-188 -341h27M-924 -279h28M-679 -279h136M-489 -279h54M-272 -279h55M-109 -279h28M-959 -217h27M-849 -217h27M-493 -217h55M-247 -217h28M-55 -217h28M-828 -155h28M414 -155h27M772 -155h28M-942 -93h28M332 -93h28M416 -93h55M499 -93h27M-1000 -31h28M-944 -31h56M-861 -31h28M333 -31h56M416 -31h28M861 -31h27M416 31h28M472 31h28M805 31h28M-886 93h27M416 93h55M-855 155h27M55 155h28M331 155h55M-767 217h27M0 217h27M82 217h28M-978 279h27M-842 279h54M-761 279h28M136 279h27M217 279h27M-940 341h27M-806 341h54M-134 341h27M27 341h27M107 341h54M806 341h27M-899 403h26M-820 403h53M-714 403h27M-132 403h79M-907 465h78M-803 465h26M-700 465h26M-570 465h26M-155 465h103M52 465h52M596 465h26M725 465h26"/><path stroke="#FEE187" stroke-width="59" d="M426 -647h24M521 -647h23"/><path stroke="#FEE187" stroke-width="61" d="M-909 526h25M-834 526h51"/><path stroke="#FEE187" stroke-width="62" d="M-881 -465h26M-706 -279h27M109 279h27M951 279h27M-952 403h53M-873 403h53M-829 465h26M-777 465h77M751 465h26"/>
</g>
<use href="#gr"/>
<use href="#ol" fill="none" stroke="#b8b8b0" stroke-width="0.9" vector-effect="non-scaling-stroke"/>
<use href="#fi"/>
<use href="#co"/>
</g>
<text x="384.8" y="30.3" font-size="31.3" font-weight="bold" text-anchor="middle" textLength="454" lengthAdjust="spacingAndGlyphs">Roman Warm Period [1–750]</text>
<text x="73.85" y="87.55" font-size="34.2" font-weight="bold">a</text>
<path d="M226.82 81.7V91.7" stroke="#3a3a3a" stroke-width="1.5"/>
<text x="226.82" y="67.3" font-size="33" text-anchor="middle">60</text>
<path d="M332.12 81.7V91.7" stroke="#3a3a3a" stroke-width="1.5"/>
<text x="332.12" y="67.3" font-size="33" text-anchor="middle">180</text>
<path d="M437.48 81.7V91.7" stroke="#3a3a3a" stroke-width="1.5"/>
<text x="437.48" y="67.3" font-size="33" text-anchor="middle">−60</text>
<path d="M536.85 81.7V91.7" stroke="#3a3a3a" stroke-width="1.5"/>
<text x="536.85" y="67.3" font-size="33" text-anchor="middle">60</text>
<path d="M65.5 109.53H76" stroke="#3a3a3a" stroke-width="1.5"/>
<text x="55.4" y="121.93" font-size="33" text-anchor="end">90</text>
<path d="M65.5 161.13H76" stroke="#3a3a3a" stroke-width="1.5"/>
<text x="55.4" y="173.53" font-size="33" text-anchor="end">60</text>
<path d="M65.5 231.63H76" stroke="#3a3a3a" stroke-width="1.5"/>
<text x="55.4" y="244.03" font-size="33" text-anchor="end">30</text>
<path d="M65.5 303.95H76" stroke="#3a3a3a" stroke-width="1.5"/>
<text x="55.4" y="316.35" font-size="33" text-anchor="end">0</text>
<path d="M65.5 376.27H76" stroke="#3a3a3a" stroke-width="1.5"/>
<text x="55.4" y="388.67" font-size="33" text-anchor="end">−30</text>
<path d="M65.5 446.77H76" stroke="#3a3a3a" stroke-width="1.5"/>
<text x="55.4" y="459.17" font-size="33" text-anchor="end">−60</text>
<path d="M65.5 498.37H76" stroke="#3a3a3a" stroke-width="1.5"/>
<text x="55.4" y="510.77" font-size="33" text-anchor="end">−90</text>
<rect x="106.88" y="536.4" width="555.84" height="12.3" fill="url(#yl)" stroke="#3a3a28" stroke-width="1.2"/>
<path d="M106.88 548.7V558.7" stroke="#3a3a3a" stroke-width="1.5"/>
<text x="106.88" y="585.5" font-size="33" text-anchor="middle">0</text>
<path d="M230.4 548.7V558.7" stroke="#3a3a3a" stroke-width="1.5"/>
<text x="230.4" y="585.5" font-size="33" text-anchor="middle">200</text>
<path d="M353.92 548.7V558.7" stroke="#3a3a3a" stroke-width="1.5"/>
<text x="353.92" y="585.5" font-size="33" text-anchor="middle">400</text>
<path d="M477.44 548.7V558.7" stroke="#3a3a3a" stroke-width="1.5"/>
<text x="477.44" y="585.5" font-size="33" text-anchor="middle">600</text>
<path d="M600.96 548.7V558.7" stroke="#3a3a3a" stroke-width="1.5"/>
<text x="600.96" y="585.5" font-size="33" text-anchor="middle">800</text>
<text x="384.8" y="626" font-size="33" text-anchor="middle" textLength="229" lengthAdjust="spacingAndGlyphs">Std.dev. [years]</text>
<rect x="704.85" y="91.7" width="606.65" height="424.5" fill="none" stroke="#3a3a3a" stroke-width="1.6"/>
<g transform="translate(1008.17 303.95) scale(0.280697 0.194421)">
<use href="#ol" fill="#FFFFCC"/>
<g clip-path="url(#cp)" fill="none">
<path stroke="#FFF8BA" stroke-width="24" d="M-245 -988h16M-352 988h15M-214 988h30M321 988h16M398 988h46"/><path stroke="#FFF8BA" stroke-width="37" d="M-397 -958h16M-265 -958h33M-381 958h17M-315 958h17M-232 958h33"/><path stroke="#FFF8BA" stroke-width="46" d="M-288 916h36M-162 916h18M378 916h18"/><path stroke="#FFF8BA" stroke-width="50" d="M-406 869h19M-348 869h38M-155 869h20M581 869h19"/><path stroke="#FFF8BA" stroke-width="53" d="M-514 817h21M-370 817h41M616 817h21"/><path stroke="#FFF8BA" stroke-width="56" d="M-541 762h21M-390 762h44M-217 762h22M650 762h43"/><path stroke="#FFF8BA" stroke-width="58" d="M-817 -706h23M-454 706h23M-318 706h23M-91 706h68M499 706h23"/><path stroke="#FFF8BA" stroke-width="59" d="M355 -647h24M781 -647h24M-473 647h47M-331 647h47M-71 647h24M0 647h24M402 647h24M521 647h23M734 647h23"/><path stroke="#FFF8BA" stroke-width="60" d="M539 -587h25M-49 587h24M392 587h49M515 587h24M711 587h24"/><path stroke="#FFF8BA" stroke-width="61" d="M-530 526h25M-480 526h25M-126 526h25M455 526h25M682 526h25"/><path stroke="#FFF8BA" stroke-width="62" d="M733 -279h28M-277 -93h28M-305 31h27M-250 31h28M166 93h28M249 93h28M360 93h28M471 93h28M582 93h27M-938 155h28M-166 155h56M-28 155h28M-932 217h55M575 217h28M380 279h27M-873 403h27M529 403h106M-933 465h52M518 465h26M570 465h26"/><path stroke="#FFF1A9" stroke-width="24" d="M-275 -988h30M-107 -988h15M0 -988h15M92 -988h46M-459 988h15M-168 988h30"/><path stroke="#FFF1A9" stroke-width="37" d="M-348 -958h17M-166 -958h17M-132 -958h33M99 -958h33M331 -958h17M-480 958h17M-430 958h16M-66 958h33"/><path stroke="#FFF1A9" stroke-width="46" d="M-180 -916h36M-36 -916h54M72 -916h36M180 -916h18M252 916h18"/><path stroke="#FFF1A9" stroke-width="50" d="M-252 -869h20M-174 -869h19M-19 -869h19M77 -869h39M194 -869h38M329 -869h19M-77 869h19M-39 869h20"/><path stroke="#FFF1A9" stroke-width="53" d="M-493 -817h41M226 -817h20M329 -817h20M616 -817h41M-21 817h21"/><path stroke="#FFF1A9" stroke-width="56" d="M-585 -762h22M-498 -762h22M-303 -762h22M650 -762h43M-65 762h22"/><path stroke="#FFF1A9" stroke-width="58" d="M227 -706h23M545 -706h45M295 706h23"/><path stroke="#FFF1A9" stroke-width="59" d="M-828 -647h23M237 -647h47M-757 647h23M-24 647h24M118 647h24"/><path stroke="#FFF1A9" stroke-width="60" d="M123 -587h24M270 -587h24M809 -587h24M-833 587h24M-686 587h49M196 587h25M245 587h25"/><path stroke="#FFF1A9" stroke-width="61" d="M-682 -526h25M-404 -526h25M-76 -526h25M51 -526h25M455 -526h50M859 -526h25M-783 526h25M-707 526h25M-152 526h26M253 526h50M429 526h26"/><path stroke="#FFF1A9" stroke-width="62" d="M-803 -465h26M181 -465h26M285 -465h26M-846 -403h53M264 -403h53M-698 -341h26M-376 -341h54M-81 -341h81M618 -341h27M725 -341h27M-380 -279h54M-299 -279h27M27 -279h27M-904 -217h27M-301 -217h27M438 -217h28M548 -217h27M932 -217h27M-910 -155h27M-386 -155h27M-303 -155h55M-221 -155h28M469 -155h28M910 -155h28M-942 -93h28M776 -93h55M-361 -31h28M694 -31h28M861 -31h27M-861 31h28M-361 31h28M389 31h55M-886 93h27M-637 93h28M-388 93h56M194 93h28M859 93h27M607 155h27M-247 217h28M192 217h27M247 217h109M740 217h27M904 217h28M-109 279h55M326 279h27M-107 341h26M-264 403h26M212 403h26M423 403h26M767 403h26M-52 465h26M285 465h26M363 465h52"/><path stroke="#FFE998" stroke-width="24" d="M-413 -988h15M-444 988h16M-321 988h30M-184 988h16M-138 988h16M490 988h30"/><path stroke="#FFE998" stroke-width="37" d="M-463 -958h16M-364 -958h16M-298 -958h33M-497 958h17M-463 958h16M-414 958h33M-199 958h67M-116 958h17M430 958h17M497 958h66"/><path stroke="#FFE998" stroke-width="46" d="M-468 -916h18M-432 -916h36M-468 916h18M-360 916h36M-252 916h18M270 916h18M306 916h18M468 916h18M540 916h18"/><path stroke="#FFE998" stroke-width="50" d="M-174 869h19M271 869h39M329 869h19M600 869h19M677 869h20"/><path stroke="#FFE998" stroke-width="53" d="M-657 -817h41M-596 -817h62M-123 817h20M-41 817h20M329 817h41M678 817h20"/><path stroke="#FFE998" stroke-width="56" d="M-693 -762h43M-606 -762h21M-563 -762h22M368 -762h22M-108 762h43M-22 762h22M411 762h22M714 762h22"/><path stroke="#FFE998" stroke-width="58" d="M-749 -706h23M340 -706h23M386 -706h68M477 -706h22M522 -706h23M-567 706h22M-23 706h23M772 706h22"/><path stroke="#FFE998" stroke-width="59" d="M-805 -647h48M379 -647h23M426 -647h24M473 -647h48M805 -647h23"/><path stroke="#FFE998" stroke-width="60" d="M466 -587h24M784 -587h25M-368 587h25M-196 587h24M-123 587h74M0 587h25M466 587h24M784 587h25"/><path stroke="#FFE998" stroke-width="61" d="M-859 526h51M-505 526h25M-379 526h25M-328 526h25M-278 526h25M-202 526h50M-76 526h25M707 526h26M808 526h51M884 526h25"/><path stroke="#FFE998" stroke-width="62" d="M687 -403h27M913 -341h27M625 -279h27M815 -279h54M-959 -217h27M740 -217h27M28 -155h27M662 -155h28M-914 -93h28M-139 -93h28M-83 -93h28M-916 -31h28M-305 -31h55M-222 -31h28M-167 -31h56M-28 -31h28M56 -31h27M167 -31h27M777 -31h28M-944 31h28M-888 31h27M-333 31h28M-167 31h56M-83 31h27M28 31h28M167 31h27M361 31h28M805 31h28M-305 93h28M-166 93h27M-83 93h28M0 93h83M388 93h55M-883 155h28M-276 155h55M-193 155h27M-110 155h27M-55 155h27M83 155h27M276 155h55M359 155h27M552 155h27M883 155h55M-986 217h27M-740 217h28M-192 217h28M438 217h28M603 217h27M822 217h27M877 217h27M932 217h27M869 279h55M-806 341h27M672 341h26M752 341h27M886 341h27M-925 403h26M370 403h27M687 403h27M544 465h26M648 465h26M751 465h26M829 465h26"/><path stroke="#FEE187" stroke-width="46" d="M-306 916h18M-234 916h18M486 916h18"/><path stroke="#FEE187" stroke-width="50" d="M-426 869h20M-310 869h20M-271 869h39M-194 869h20M484 869h58"/><path stroke="#FEE187" stroke-width="53" d="M-431 817h41M-329 817h41M-267 817h21M-226 817h21M-103 817h21M390 817h41"/><path stroke="#FEE187" stroke-width="56" d="M-476 762h43M-325 762h22M-130 762h22M368 762h22M433 762h22"/><path stroke="#FEE187" stroke-width="58" d="M454 -706h23M-499 706h45M-386 706h23M-272 706h22M613 706h23M658 706h23"/><path stroke="#FEE187" stroke-width="59" d="M450 -647h23M-426 647h24M615 647h24M663 647h47M828 647h24"/><path stroke="#FEE187" stroke-width="60" d="M-539 587h98M-294 587h24M-221 587h25M-172 587h49M441 587h25M539 587h49M637 587h25"/><path stroke="#FEE187" stroke-width="61" d="M-303 526h25M556 526h126M733 526h25"/><path stroke="#FEE187" stroke-width="62" d="M-222 31h55M-111 31h28M-222 93h56M-139 93h56M-993 155h28M725 465h26"/><path stroke="#FED976" stroke-width="50" d="M-290 869h19"/><path stroke="#FED976" stroke-width="53" d="M-390 817h20M-288 817h21M431 817h21M472 817h21M575 817h21"/><path stroke="#FED976" stroke-width="56" d="M-433 762h43M-346 762h21M-281 762h64M455 762h43M563 762h22"/><path stroke="#FED976" stroke-width="58" d="M-522 706h23M-409 706h23M-295 706h23M-159 706h23M409 706h22M454 706h45M522 706h23M567 706h23"/><path stroke="#FED976" stroke-width="59" d="M-521 647h24M-166 647h24M450 647h47M568 647h24"/><path stroke="#FED976" stroke-width="60" d="M-392 587h24M-343 587h49M588 587h49M686 587h25"/><path stroke="#FEC965" stroke-width="53" d="M-246 817h20M534 817h21"/><path stroke="#FEC965" stroke-width="56" d="M498 762h22M585 762h21"/><path stroke="#FEC965" stroke-width="58" d="M-431 706h22M-250 706h23M-182 706h23M545 706h22M636 706h22"/><path stroke="#FEC965" stroke-width="59" d="M-497 647h24M-402 647h23M-284 647h47M-189 647h23M497 647h24M544 647h24M592 647h23"/>
</g>
<use href="#gr"/>
<use href="#ol" fill="none" stroke="#b8b8b0" stroke-width="0.9" vector-effect="non-scaling-stroke"/>
<use href="#fi"/>
<use href="#co"/>
</g>
<text x="1008.17" y="30.3" font-size="31.3" font-weight="bold" text-anchor="middle" textLength="606" lengthAdjust="spacingAndGlyphs">Medieval Climate Anomaly [751–1350]</text>
<text x="702.45" y="90.95" font-size="34.2" font-weight="bold">b</text>
<path d="M852.99 81.7V91.7" stroke="#3a3a3a" stroke-width="1.5"/>
<text x="852.99" y="67.3" font-size="33" text-anchor="middle">60</text>
<path d="M956.43 81.7V91.7" stroke="#3a3a3a" stroke-width="1.5"/>
<text x="956.43" y="67.3" font-size="33" text-anchor="middle">180</text>
<path d="M1059.92 81.7V91.7" stroke="#3a3a3a" stroke-width="1.5"/>
<text x="1059.92" y="67.3" font-size="33" text-anchor="middle">−60</text>
<path d="M1157.53 81.7V91.7" stroke="#3a3a3a" stroke-width="1.5"/>
<text x="1157.53" y="67.3" font-size="33" text-anchor="middle">60</text>
<rect x="735.18" y="536.4" width="545.99" height="12.3" fill="url(#yl)" stroke="#3a3a28" stroke-width="1.2"/>
<path d="M735.18 548.7V558.7" stroke="#3a3a3a" stroke-width="1.5"/>
<text x="735.18" y="585.5" font-size="33" text-anchor="middle">0</text>
<path d="M856.51 548.7V558.7" stroke="#3a3a3a" stroke-width="1.5"/>
<text x="856.51" y="585.5" font-size="33" text-anchor="middle">200</text>
<path d="M977.84 548.7V558.7" stroke="#3a3a3a" stroke-width="1.5"/>
<text x="977.84" y="585.5" font-size="33" text-anchor="middle">400</text>
<path d="M1099.17 548.7V558.7" stroke="#3a3a3a" stroke-width="1.5"/>
<text x="1099.17" y="585.5" font-size="33" text-anchor="middle">600</text>
<path d="M1220.5 548.7V558.7" stroke="#3a3a3a" stroke-width="1.5"/>
<text x="1220.5" y="585.5" font-size="33" text-anchor="middle">800</text>
<text x="1008.17" y="626" font-size="33" text-anchor="middle" textLength="229" lengthAdjust="spacingAndGlyphs">Std.dev. [years]</text>
<rect x="1322.9" y="91.7" width="616.6" height="424.5" fill="none" stroke="#3a3a3a" stroke-width="1.6"/>
<g transform="translate(1631.2 303.95) scale(0.285301 0.194421)">
<use href="#ol" fill="#FFFFCC"/>
<g clip-path="url(#cp)" fill="none">
<path stroke="#FFF1A9" stroke-width="53" d="M123 817h21"/><path stroke="#FFF1A9" stroke-width="56" d="M-195 762h22"/><path stroke="#FFF1A9" stroke-width="58" d="M-159 706h23"/><path stroke="#FFE998" stroke-width="37" d="M17 958h16"/><path stroke="#FFE998" stroke-width="53" d="M-82 817h20M-41 817h20"/><path stroke="#FEE187" stroke-width="50" d="M-135 869h19M-97 869h20M-39 869h20"/><path stroke="#FEE187" stroke-width="53" d="M-21 817h21M41 817h41"/><path stroke="#FED976" stroke-width="50" d="M-116 869h19M-58 869h19M-19 869h38"/><path stroke="#FED976" stroke-width="53" d="M-62 817h21M0 817h21M103 817h20"/><path stroke="#FEC965" stroke-width="37" d="M0 958h17"/><path stroke="#FEC965" stroke-width="46" d="M-162 916h108"/><path stroke="#FEC965" stroke-width="50" d="M-77 869h19M19 869h20"/><path stroke="#FEC965" stroke-width="53" d="M21 817h20M82 817h21"/><path stroke="#FEC965" stroke-width="56" d="M22 762h21"/><path stroke="#FEC965" stroke-width="58" d="M-227 706h23"/><path stroke="#FEBA54" stroke-width="37" d="M-99 958h33M-17 958h17"/><path stroke="#FEBA54" stroke-width="46" d="M-54 916h18"/><path stroke="#FEBA54" stroke-width="56" d="M0 762h22"/><path stroke="#FEAB49" stroke-width="37" d="M-149 958h50M-66 958h16M-33 958h16"/><path stroke="#FD9640" stroke-width="37" d="M-50 958h17"/><path stroke="#FD7435" stroke-width="46" d="M72 916h36"/><path stroke="#FD7435" stroke-width="50" d="M39 869h38"/><path stroke="#F74427" stroke-width="46" d="M0 916h18"/><path stroke="#E31A1C" stroke-width="37" d="M33 958h33"/><path stroke="#E31A1C" stroke-width="46" d="M-36 916h18"/><path stroke="#BF0126" stroke-width="46" d="M-18 916h18M18 916h18M54 916h18"/><path stroke="#BF0126" stroke-width="50" d="M77 869h39"/><path stroke="#BF0126" stroke-width="58" d="M-204 706h45"/><path stroke="#800026" stroke-width="46" d="M36 916h18"/>
</g>
<use href="#gr"/>
<use href="#ol" fill="none" stroke="#b8b8b0" stroke-width="0.9" vector-effect="non-scaling-stroke"/>
<use href="#fi"/>
<use href="#co"/>
</g>
<text x="1631.2" y="30.3" font-size="31.3" font-weight="bold" text-anchor="middle" textLength="480" lengthAdjust="spacingAndGlyphs">Current Warm Period [1–2000]</text>
<text x="1321.35" y="87.55" font-size="34.2" font-weight="bold">c</text>
<path d="M1473.47 81.7V91.7" stroke="#3a3a3a" stroke-width="1.5"/>
<text x="1473.47" y="67.3" font-size="33" text-anchor="middle">60</text>
<path d="M1578.6 81.7V91.7" stroke="#3a3a3a" stroke-width="1.5"/>
<text x="1578.6" y="67.3" font-size="33" text-anchor="middle">180</text>
<path d="M1683.8 81.7V91.7" stroke="#3a3a3a" stroke-width="1.5"/>
<text x="1683.8" y="67.3" font-size="33" text-anchor="middle">−60</text>
<path d="M1783.01 81.7V91.7" stroke="#3a3a3a" stroke-width="1.5"/>
<text x="1783.01" y="67.3" font-size="33" text-anchor="middle">60</text>
<path d="M1939.5 109.53H1950" stroke="#3a3a3a" stroke-width="1.5"/>
<text x="1961.5" y="121.93" font-size="33">90</text>
<path d="M1939.5 161.13H1950" stroke="#3a3a3a" stroke-width="1.5"/>
<text x="1961.5" y="173.53" font-size="33">60</text>
<path d="M1939.5 231.63H1950" stroke="#3a3a3a" stroke-width="1.5"/>
<text x="1961.5" y="244.03" font-size="33">30</text>
<path d="M1939.5 303.95H1950" stroke="#3a3a3a" stroke-width="1.5"/>
<text x="1961.5" y="316.35" font-size="33">0</text>
<path d="M1939.5 376.27H1950" stroke="#3a3a3a" stroke-width="1.5"/>
<text x="1961.5" y="388.67" font-size="33">−30</text>
<path d="M1939.5 446.77H1950" stroke="#3a3a3a" stroke-width="1.5"/>
<text x="1961.5" y="459.17" font-size="33">−60</text>
<path d="M1939.5 498.37H1950" stroke="#3a3a3a" stroke-width="1.5"/>
<text x="1961.5" y="510.77" font-size="33">−90</text>
<rect x="1353.73" y="536.4" width="554.94" height="12.3" fill="url(#yl)" stroke="#3a3a28" stroke-width="1.2"/>
<path d="M1353.73 548.7V558.7" stroke="#3a3a3a" stroke-width="1.5"/>
<text x="1353.73" y="585.5" font-size="33" text-anchor="middle">0</text>
<path d="M1477.05 548.7V558.7" stroke="#3a3a3a" stroke-width="1.5"/>
<text x="1477.05" y="585.5" font-size="33" text-anchor="middle">200</text>
<path d="M1600.37 548.7V558.7" stroke="#3a3a3a" stroke-width="1.5"/>
<text x="1600.37" y="585.5" font-size="33" text-anchor="middle">400</text>
<path d="M1723.69 548.7V558.7" stroke="#3a3a3a" stroke-width="1.5"/>
<text x="1723.69" y="585.5" font-size="33" text-anchor="middle">600</text>
<path d="M1847.01 548.7V558.7" stroke="#3a3a3a" stroke-width="1.5"/>
<text x="1847.01" y="585.5" font-size="33" text-anchor="middle">800</text>
<text x="1631.2" y="626" font-size="33" text-anchor="middle" textLength="229" lengthAdjust="spacingAndGlyphs">Std.dev. [years]</text>
<rect x="393.3" y="731.7" width="604.3" height="402.5" fill="none" stroke="#3a3a3a" stroke-width="1.6"/>
<g transform="translate(695.45 932.95) scale(0.279610 0.184345)">
<use href="#ol" fill="#FFFFCC"/>
<g clip-path="url(#cp)" fill="none">
<path stroke="#FFF8BA" stroke-width="24" d="M-321 -988h15M-153 -988h15M61 -988h15M-260 988h15M122 988h16M321 988h16M367 988h31"/><path stroke="#FFF8BA" stroke-width="37" d="M-315 -958h17M-281 -958h16M-17 -958h17M66 -958h33M-298 958h17M83 958h16M315 958h16M480 958h17M546 958h17"/><path stroke="#FFF8BA" stroke-width="46" d="M-252 -916h18M72 -916h18M-432 916h18M-234 916h18M-180 916h36M198 916h18M378 916h18M540 916h36M594 916h18"/><path stroke="#FFF8BA" stroke-width="50" d="M-271 869h39M135 869h20M387 869h39M581 869h19"/><path stroke="#FFF8BA" stroke-width="53" d="M-719 -817h21M-370 -817h21M-267 817h21M-226 817h21M452 817h20"/><path stroke="#FFF8BA" stroke-width="56" d="M217 -762h21M303 -762h22M-714 762h21M-498 762h22M0 762h22M152 762h21M346 762h22"/><path stroke="#FFF8BA" stroke-width="58" d="M-726 -706h45M23 706h22M227 706h45M704 706h22"/><path stroke="#FFF8BA" stroke-width="59" d="M-734 -647h24M-284 -647h47M308 -647h23M805 -647h23M-47 647h47"/><path stroke="#FFF8BA" stroke-width="60" d="M-735 -587h24M-172 -587h25M392 -587h25M441 -587h25M735 -587h49M-588 587h24M-539 587h24M662 587h24"/><path stroke="#FFF8BA" stroke-width="61" d="M-758 -526h51M-253 -526h26M-202 -526h25M-859 526h25M-556 526h51M354 526h25M556 526h25"/><path stroke="#FFF8BA" stroke-width="62" d="M-363 -465h26M-207 -465h26M-155 -465h25M363 -465h52M-370 -403h53M-212 -403h53M397 -403h26M899 -403h26M-967 -341h27M-618 -341h27M-269 -341h54M430 -341h27M752 -341h54M-733 -279h27M-380 -279h27M-272 -279h55M0 -279h27M761 -279h54M924 -279h27M-329 -217h55M575 -217h28M767 -217h82M-772 -155h55M-662 -155h55M-579 -155h27M-193 -155h27M55 -155h55M221 -155h27M-886 -93h27M-748 -93h28M-139 -93h28M693 -93h27M111 -31h28M500 -31h28M-416 31h27M167 31h27M278 31h27M528 31h83M694 31h28M750 31h27M-249 93h27M305 93h27M443 93h56M554 93h55M665 93h55M942 93h28M-883 155h28M-772 155h27M-331 155h28M276 155h55M441 155h28M552 155h55M662 155h28M745 155h27M-986 217h27M-877 217h55M-740 217h28M-411 217h27M-219 217h55M301 217h28M712 217h28M-109 279h28M-54 279h27M190 279h27M869 279h27M-860 341h27M-672 341h27M-242 341h27M-161 341h27M886 341h27M-317 403h26M-132 403h26M-79 403h26M132 403h27M344 403h26M397 403h26M502 403h27M820 403h26M-78 465h52M363 465h52M725 465h26M803 465h26M881 465h52"/><path stroke="#FFF1A9" stroke-width="24" d="M-505 -988h15M184 -988h15M214 -988h15M245 -988h15"/><path stroke="#FFF1A9" stroke-width="37" d="M248 -958h17M315 -958h16"/><path stroke="#FFF1A9" stroke-width="46" d="M594 -916h18"/><path stroke="#FFF1A9" stroke-width="50" d="M387 -869h19"/><path stroke="#FFF1A9" stroke-width="56" d="M520 -762h21M714 -762h22"/><path stroke="#FFF1A9" stroke-width="58" d="M-23 -706h23M68 -706h45M477 -706h22M522 -706h23M681 -706h23"/><path stroke="#FFF1A9" stroke-width="59" d="M0 -647h47M615 -647h24"/><path stroke="#FFF1A9" stroke-width="61" d="M227 -526h26"/><path stroke="#FFF1A9" stroke-width="62" d="M155 -465h26M159 -403h53M242 -341h27M109 -279h27M217 -279h55"/><path stroke="#FFE998" stroke-width="24" d="M-337 -988h16M-306 -988h15M-214 -988h30M-107 -988h15M0 -988h31M76 -988h16M153 -988h15M-459 988h15M-382 988h15M-275 988h15M-61 988h15M61 988h15M168 988h31M214 988h92M337 988h15M459 988h31"/><path stroke="#FFE998" stroke-width="37" d="M-364 -958h33M-232 -958h33M-132 -958h33M-66 -958h33M17 -958h16M232 -958h16M-546 958h16M-513 958h66M-381 958h17M-315 958h17M-50 958h17M116 958h33M182 958h33M298 958h17M381 958h16M430 958h17M497 958h33"/><path stroke="#FFE998" stroke-width="46" d="M-486 -916h18M-378 -916h18M-144 -916h18M-36 -916h36M36 -916h18M-648 916h18M-378 916h18M-324 916h18M36 916h18M90 916h18M216 916h36M306 916h18M432 916h72M576 916h18M612 916h36"/><path stroke="#FFE998" stroke-width="50" d="M-542 -869h19M-426 -869h39M-271 -869h19M-39 -869h39M58 -869h19M290 -869h20M-697 869h20M-329 869h19M39 869h19M77 869h20M116 869h19M426 869h19M464 869h78M619 869h78"/><path stroke="#FFE998" stroke-width="53" d="M-657 -817h20M-575 -817h20M-349 -817h20M-308 -817h20M-267 -817h21M-226 -817h21M123 -817h41M226 -817h20M-739 817h20M-698 817h41M-637 817h21M-575 817h20M-62 817h21M82 817h21M164 817h41M390 817h21M514 817h20M616 817h41M678 817h41"/><path stroke="#FFE998" stroke-width="56" d="M-693 -762h43M-606 -762h65M-520 -762h22M-433 -762h22M-390 -762h44M195 -762h22M346 -762h22M-585 762h22M43 762h44M195 762h22M238 762h22M325 762h21M520 762h21M650 762h21M736 762h43"/><path stroke="#FFE998" stroke-width="58" d="M-681 -706h45M-567 -706h22M-522 -706h23M-363 -706h23M23 -706h22M-658 706h22M-590 706h45M-409 706h23M45 706h23M182 706h22M363 706h46M431 706h23M749 706h68"/><path stroke="#FFE998" stroke-width="59" d="M-757 -647h23M-710 -647h24M-615 -647h47M-544 -647h23M-331 -647h23M-189 -647h23M-142 -647h24M95 -647h23M284 -647h24M473 -647h95M757 -647h24M-450 647h24M-402 647h47M-331 647h23M-237 647h24M142 647h47M237 647h23M781 647h24M828 647h24"/><path stroke="#FFE998" stroke-width="60" d="M-760 -587h25M-515 -587h25M294 -587h49M368 -587h24M686 -587h49M784 -587h25M-417 587h25M-196 587h24M49 587h49M539 587h49M858 587h25"/><path stroke="#FFE998" stroke-width="61" d="M-606 -526h101M303 -526h51M379 -526h25M556 -526h25M631 -526h102M859 -526h25M505 526h25M682 526h25M884 526h25"/><path stroke="#FFE998" stroke-width="62" d="M-933 -465h26M-674 -465h26M-389 -465h26M-233 -465h26M415 -465h25M725 -465h26M777 -465h26M-899 -403h26M-846 -403h26M-767 -403h27M-608 -403h26M-264 -403h52M-159 -403h27M370 -403h27M423 -403h53M635 -403h52M-886 -341h26M-752 -341h27M-537 -341h27M-484 -341h27M-81 -341h27M-27 -341h54M564 -341h27M618 -341h27M725 -341h27M-353 -279h54M-27 -279h27M516 -279h27M570 -279h55M706 -279h55M-712 -217h27M-493 -217h27M301 -217h28M193 -155h28M139 -93h27M305 -93h27M443 -93h56M526 -93h28M637 -93h28M611 31h55M-997 93h83M28 93h27M-965 155h27M-745 155h28M-579 155h27M-82 217h27M438 217h28M548 217h27M-489 279h82M0 279h54M489 279h27M815 279h27M896 279h28M951 279h27M-698 341h26M-457 341h27M-403 341h27M-188 341h27M-27 341h54M484 341h26M698 341h27M940 341h27M-423 403h26M-159 403h27M476 403h26M-440 465h25M-389 465h52M-155 465h25M52 465h26M777 465h26"/><path stroke="#FEE187" stroke-width="24" d="M-444 988h46M-352 988h77M-153 988h15M-122 988h15M-76 988h15M-46 988h15M0 988h15M92 988h30M138 988h15M199 988h15"/><path stroke="#FEE187" stroke-width="37" d="M0 -958h17M-447 958h17M-397 958h16M-364 958h33M-199 958h67M-116 958h17M-83 958h33M-33 958h16M0 958h17M50 958h16M99 958h17M149 958h17M232 958h16"/><path stroke="#FEE187" stroke-width="46" d="M-522 916h18M-396 916h18M-360 916h36M-306 916h18M-252 916h18M-216 916h18M-144 916h54M-72 916h36M0 916h18M72 916h18M108 916h72"/><path stroke="#FEE187" stroke-width="50" d="M-600 869h19M-426 869h20M-368 869h39M-232 869h19M-116 869h77M19 869h20M97 869h19M155 869h19M232 869h20"/><path stroke="#FEE187" stroke-width="53" d="M164 -817h62M246 -817h21M-596 817h21M-534 817h82M-349 817h20M-144 817h82M0 817h82M103 817h20M205 817h41"/><path stroke="#FEE187" stroke-width="56" d="M-325 -762h22M238 -762h43M-779 762h43M-693 762h22M-541 762h21M-368 762h22M-260 762h22M-173 762h21M-108 762h65M22 762h21M173 762h22"/><path stroke="#FEE187" stroke-width="58" d="M-340 -706h22M-204 -706h45M340 -706h23M-522 706h23M-386 706h46M-272 706h68M-182 706h23M-113 706h22M136 706h46M204 706h23M409 706h22"/><path stroke="#FEE187" stroke-width="59" d="M-805 -647h24M-450 -647h24M-379 -647h24M-213 -647h24M331 -647h24M-615 647h23M-568 647h47M-426 647h24M-284 647h47M-189 647h23M47 647h48M189 647h24M260 647h24M379 647h47M568 647h24"/><path stroke="#FEE187" stroke-width="60" d="M-784 -587h24M-711 -587h25M-564 -587h25M-490 -587h24M-392 -587h49M858 -587h25M-858 587h49M-515 587h25M-294 587h24M-172 587h25M196 587h25M245 587h49M490 587h25M833 587h25"/><path stroke="#FEE187" stroke-width="61" d="M-808 -526h50M-404 -526h25M-227 -526h25M733 -526h126M-429 526h25M-202 526h50M-51 526h26M51 526h50M227 526h26M278 526h25M404 526h51M581 526h25M758 526h25"/><path stroke="#FEE187" stroke-width="62" d="M-881 -465h104M-648 -465h26M-259 -465h26M803 -465h26M855 -465h26M907 -465h26M-952 -403h53M-873 -403h27M-820 -403h27M767 -403h26M820 -403h26M-295 -341h26M-161 -341h27M-107 -341h26M698 -341h27M886 -341h81M-924 -279h28M-190 -279h27M-109 -279h82M489 -279h27M543 -279h27M625 -279h27M842 -279h27M951 -279h27M-904 -217h55M-822 -217h55M-685 -217h55M-548 -217h55M-466 -217h82M-274 -217h55M-137 -217h82M0 -217h55M603 -217h55M740 -217h27M904 -217h28M-883 -155h28M-828 -155h56M-552 -155h28M-414 -155h28M-359 -155h28M-110 -155h27M0 -155h28M331 -155h28M607 -155h55M717 -155h111M938 -155h27M-970 -93h28M-831 -93h28M-28 -93h83M111 -93h28M222 -93h55M609 -93h28M831 -93h28M886 -93h56M970 -93h27M-1000 -31h28M-666 -31h27M-583 -31h28M-500 -31h28M-56 -31h28M28 -31h28M139 -31h55M222 -31h28M305 -31h28M389 -31h27M444 -31h56M611 -31h139M777 -31h28M861 -31h83M-1000 31h28M-944 31h56M-750 31h28M-666 31h27M-500 31h56M139 31h28M194 31h28M333 31h28M389 31h55M666 31h28M777 31h28M944 31h28M-914 93h28M-803 93h27M-166 93h55M-28 93h56M55 93h28M166 93h28M526 93h28M609 93h28M776 93h27M831 93h28M970 93h27M-855 155h27M-607 155h28M-497 155h28M-441 155h27M-303 155h27M-221 155h55M0 155h55M359 155h27M469 155h28M965 155h28M-685 217h27M-438 217h27M-274 217h55M-110 217h28M0 217h27M192 217h109M329 217h82M466 217h27M740 217h27M959 217h27M-978 279h27M-815 279h54M-706 279h27M-652 279h27M-190 279h81M-27 279h27M54 279h55M217 279h27M272 279h27M407 279h28M516 279h27M570 279h28M679 279h27M733 279h28M842 279h27M924 279h27M-913 341h27M-779 341h81M-645 341h27M-537 341h80M-430 341h27M-269 341h27M-134 341h27M27 341h80M161 341h27M215 341h54M295 341h27M376 341h27M510 341h27M672 341h26M725 341h27M806 341h54M-635 403h27M-476 403h53M-397 403h27M-344 403h27M-212 403h53M-53 403h53M53 403h53M159 403h26M264 403h27M423 403h53M714 403h26M793 403h27M899 403h26M-803 465h26M-674 465h26M-622 465h26M-466 465h26M-415 465h26M-181 465h26M-130 465h26M-26 465h26M78 465h26M311 465h26M440 465h26M492 465h52M570 465h52M674 465h51M751 465h26M829 465h26"/><path stroke="#FED976" stroke-width="24" d="M-184 988h31M-138 988h16"/><path stroke="#FED976" stroke-width="46" d="M-198 916h18M-90 916h18"/><path stroke="#FED976" stroke-width="50" d="M-213 869h78"/><path stroke="#FED976" stroke-width="53" d="M-452 817h21"/><path stroke="#FED976" stroke-width="56" d="M-152 762h44"/><path stroke="#FED976" stroke-width="58" d="M-159 706h46M-91 706h46M0 706h23"/><path stroke="#FED976" stroke-width="59" d="M-805 647h24M-757 647h23M-118 647h47M0 647h47"/><path stroke="#FED976" stroke-width="60" d="M-809 587h98M221 587h24M319 587h24M392 587h25"/><path stroke="#FED976" stroke-width="61" d="M-884 526h25M-834 526h51M-733 526h26M-606 526h25M25 526h26M202 526h25M303 526h25"/><path stroke="#FED976" stroke-width="62" d="M829 -465h26M881 -465h26M925 -403h27M-932 -217h28M-384 -217h55M-164 -217h27M712 -217h28M-910 -155h27M-855 -155h27M-717 -155h55M-607 -155h28M-524 -155h27M-469 -155h55M-331 -155h28M-276 -155h55M-166 -155h56M828 -155h27M883 -155h55M-997 -93h27M-914 -93h28M-859 -93h28M-803 -93h27M-720 -93h55M-637 -93h28M-582 -93h83M-443 -93h27M-388 -93h56M-249 -93h27M-194 -93h28M720 -93h28M859 -93h27M-972 -31h28M-777 -31h27M-722 -31h28M-639 -31h56M-555 -31h27M-472 -31h56M-389 -31h56M-305 -31h138M0 -31h28M250 -31h28M750 -31h27M805 -31h56M-972 31h28M-528 31h28M-333 31h28M-278 31h56M-139 31h83M-28 31h56M222 31h56M361 31h28M833 31h83M972 31h28M-388 93h28M-83 93h55M277 93h28M332 93h111M859 93h83M-414 155h28M-359 155h28M-276 155h55M166 155h110M331 155h28M414 155h27M-603 217h55M164 217h28M411 217h27M-896 279h27M-679 279h27M-625 279h55M-543 279h54M163 279h27M244 279h28M299 279h27M-886 341h26M-591 341h27M-54 341h27M645 341h27M-952 403h27M-846 403h53M-661 403h26M291 403h26M370 403h27M-829 465h26M181 465h26M259 465h26M337 465h26M415 465h25M466 465h26"/><path stroke="#FEC965" stroke-width="53" d="M-205 817h20M-164 817h20"/><path stroke="#FEC965" stroke-width="59" d="M-71 647h24"/><path stroke="#FEC965" stroke-width="61" d="M-909 526h25M-758 526h25"/><path stroke="#FEC965" stroke-width="62" d="M-386 -155h27M-303 -155h27M-83 -155h28M-665 -93h28M-609 -93h27M-499 -93h56M-277 -93h28M-222 -93h28M-166 -93h27M-111 -93h83M776 -93h27M-528 -31h28M-416 -31h27M-333 -31h28M-389 31h28M-305 31h27M-167 31h28M-471 93h28M-332 93h83M222 93h55"/><path stroke="#FEBA54" stroke-width="62" d="M-416 -93h28M-332 -93h55M-111 -31h28"/>
</g>
<use href="#gr"/>
<use href="#ol" fill="none" stroke="#b8b8b0" stroke-width="0.9" vector-effect="non-scaling-stroke"/>
<use href="#fi"/>
<use href="#co"/>
</g>
<text x="695.45" y="670.3" font-size="31.3" font-weight="bold" text-anchor="middle" textLength="509" lengthAdjust="spacingAndGlyphs">Dark Ages Cold Period [1–1000]</text>
<text x="391.1" y="731" font-size="34.2" font-weight="bold">d</text>
<path d="M540.87 721.7V731.7" stroke="#3a3a3a" stroke-width="1.5"/>
<text x="540.87" y="707.3" font-size="33" text-anchor="middle">60</text>
<path d="M643.9 721.7V731.7" stroke="#3a3a3a" stroke-width="1.5"/>
<text x="643.9" y="707.3" font-size="33" text-anchor="middle">180</text>
<path d="M747 721.7V731.7" stroke="#3a3a3a" stroke-width="1.5"/>
<text x="747" y="707.3" font-size="33" text-anchor="middle">−60</text>
<path d="M844.23 721.7V731.7" stroke="#3a3a3a" stroke-width="1.5"/>
<text x="844.23" y="707.3" font-size="33" text-anchor="middle">60</text>
<path d="M382.8 748.61H393.3" stroke="#3a3a3a" stroke-width="1.5"/>
<text x="372.7" y="761" font-size="33" text-anchor="end">90</text>
<path d="M382.8 797.53H393.3" stroke="#3a3a3a" stroke-width="1.5"/>
<text x="372.7" y="809.93" font-size="33" text-anchor="end">60</text>
<path d="M382.8 864.37H393.3" stroke="#3a3a3a" stroke-width="1.5"/>
<text x="372.7" y="876.77" font-size="33" text-anchor="end">30</text>
<path d="M382.8 932.95H393.3" stroke="#3a3a3a" stroke-width="1.5"/>
<text x="372.7" y="945.35" font-size="33" text-anchor="end">0</text>
<path d="M382.8 1001.53H393.3" stroke="#3a3a3a" stroke-width="1.5"/>
<text x="372.7" y="1013.93" font-size="33" text-anchor="end">−30</text>
<path d="M382.8 1068.37H393.3" stroke="#3a3a3a" stroke-width="1.5"/>
<text x="372.7" y="1080.77" font-size="33" text-anchor="end">−60</text>
<path d="M382.8 1117.3H393.3" stroke="#3a3a3a" stroke-width="1.5"/>
<text x="372.7" y="1129.7" font-size="33" text-anchor="end">−90</text>
<rect x="423.51" y="1154.4" width="543.87" height="12.3" fill="url(#yl)" stroke="#3a3a28" stroke-width="1.2"/>
<path d="M423.51 1166.7V1176.7" stroke="#3a3a3a" stroke-width="1.5"/>
<text x="423.51" y="1203.5" font-size="33" text-anchor="middle">0</text>
<path d="M544.38 1166.7V1176.7" stroke="#3a3a3a" stroke-width="1.5"/>
<text x="544.38" y="1203.5" font-size="33" text-anchor="middle">200</text>
<path d="M665.24 1166.7V1176.7" stroke="#3a3a3a" stroke-width="1.5"/>
<text x="665.24" y="1203.5" font-size="33" text-anchor="middle">400</text>
<path d="M786.1 1166.7V1176.7" stroke="#3a3a3a" stroke-width="1.5"/>
<text x="786.1" y="1203.5" font-size="33" text-anchor="middle">600</text>
<path d="M906.95 1166.7V1176.7" stroke="#3a3a3a" stroke-width="1.5"/>
<text x="906.95" y="1203.5" font-size="33" text-anchor="middle">800</text>
<text x="695.45" y="1244" font-size="33" text-anchor="middle" textLength="229" lengthAdjust="spacingAndGlyphs">Std.dev. [years]</text>
<rect x="1008.7" y="731.7" width="613.2" height="402.5" fill="none" stroke="#3a3a3a" stroke-width="1.6"/>
<g transform="translate(1315.3 932.95) scale(0.283728 0.184345)">
<use href="#ol" fill="#FFFFCC"/>
<g clip-path="url(#cp)" fill="none">
<path stroke="#FFF8BA" stroke-width="56" d="M217 -762h21"/><path stroke="#FFF8BA" stroke-width="58" d="M227 -706h45"/><path stroke="#FFF8BA" stroke-width="59" d="M260 -647h24M-308 647h24"/><path stroke="#FFF8BA" stroke-width="60" d="M417 -587h24M-245 587h24"/><path stroke="#FFF8BA" stroke-width="61" d="M126 -526h26"/><path stroke="#FFF8BA" stroke-width="62" d="M207 -465h52M-132 -403h26M212 -403h52M-886 -341h26M27 -341h27M322 -341h27M457 -341h27M326 -279h54M658 -217h27M55 -93h56M-389 31h56M-388 93h56M-303 155h27M-924 279h55M-109 279h55"/><path stroke="#FFF1A9" stroke-width="24" d="M-490 -988h31M-31 -988h46M260 -988h15M-535 988h15M-382 988h15M-245 988h16"/><path stroke="#FFF1A9" stroke-width="37" d="M-530 -958h33M-182 -958h16M-17 -958h17M17 -958h16M-430 958h33M315 958h16"/><path stroke="#FFF1A9" stroke-width="46" d="M-450 -916h18M-360 -916h18M-252 -916h36M180 -916h18M-288 916h18M-180 916h36M-108 916h18M54 916h18M180 916h18M576 916h36"/><path stroke="#FFF1A9" stroke-width="50" d="M-503 -869h39M-387 -869h39M-271 -869h39M-155 -869h20M-77 -869h19M194 -869h38M-174 869h19M-77 869h19M213 869h19M619 869h39"/><path stroke="#FFF1A9" stroke-width="53" d="M-678 -817h21M-514 -817h21M-103 -817h21M21 -817h20M82 -817h21M-308 817h20M-246 817h20M-82 817h41M616 817h21"/><path stroke="#FFF1A9" stroke-width="56" d="M-736 -762h43M-217 -762h22M0 -762h43M455 -762h21M-346 762h43M-281 762h43M-87 762h22M368 762h22"/><path stroke="#FFF1A9" stroke-width="58" d="M-45 -706h22M636 -706h22M-749 706h23M-567 706h22"/><path stroke="#FFF1A9" stroke-width="59" d="M-757 -647h47M-544 -647h23M-260 -647h23M-592 647h24"/><path stroke="#FFF1A9" stroke-width="60" d="M-784 -587h24M-270 -587h25M-809 587h25M-490 587h24M-172 587h25"/><path stroke="#FFF1A9" stroke-width="61" d="M-808 -526h50M-455 -526h26M-303 -526h25M76 -526h25M758 -526h50M-152 526h26M76 526h25"/><path stroke="#FFF1A9" stroke-width="62" d="M-933 -465h26M-104 -465h26M855 -465h26M-873 -403h27M-767 -403h27M-291 -403h27M-79 -403h26M-913 -341h27M-618 -341h27M-484 -341h27M-188 -341h27M806 -341h27M-652 -279h54M-489 -279h54M-81 -279h27M625 -279h27M788 -279h27M-959 -217h27M-548 -217h82M274 -217h27M822 -217h55M-938 -155h28M-552 -155h55M276 -155h27M855 -155h28M-665 -93h56M-139 -93h28M0 -93h55M277 -93h28M499 -93h27M693 -93h27M-666 -31h55M-139 -31h28M28 -31h28M528 -31h27M639 -31h27M-611 31h56M278 31h27M500 31h55M-776 93h28M277 93h55M526 93h28M607 155h27M-849 217h27M712 217h28M-489 279h54M-380 279h27M81 279h28M136 279h27M272 279h27M326 279h54M489 279h54M815 279h27M924 279h27M-376 341h27M322 341h27M484 341h53M806 341h54M913 341h27M-846 403h53M-502 403h26M-53 403h27M0 403h26M-492 465h26"/><path stroke="#FFE998" stroke-width="50" d="M-194 869h20M-116 869h39"/><path stroke="#FFE998" stroke-width="53" d="M-267 817h21M-226 817h62M-21 817h21M144 817h20"/><path stroke="#FFE998" stroke-width="56" d="M-238 762h65M-65 762h22"/><path stroke="#FFE998" stroke-width="58" d="M-23 -706h23M-250 706h114M-68 706h68"/><path stroke="#FFE998" stroke-width="59" d="M-24 -647h24M331 -647h24M-828 647h23M-781 647h24M-95 647h71"/><path stroke="#FFE998" stroke-width="60" d="M-294 -587h24M-196 -587h49M270 -587h24M466 -587h24M-833 587h24M-221 587h49"/><path stroke="#FFE998" stroke-width="61" d="M-859 -526h25M-278 -526h25M-227 -526h25M51 -526h25M253 -526h25M404 -526h25M455 -526h25"/><path stroke="#FFE998" stroke-width="62" d="M-285 -465h26M-233 -465h26M311 -465h26M415 -465h51M-952 -403h27M-238 -403h26M53 -403h26M159 -403h26M423 -403h26M-215 -341h27M-107 -341h26M269 -341h26M591 -341h54M-217 -279h27M-109 -279h28M407 -279h55M598 -279h27M521 -217h27M712 -217h28M-993 -155h28M-910 -155h27M-359 -155h28M0 -155h28M83 -155h27M303 -155h28M717 -155h55M-166 -93h27M637 -93h28M-500 -31h28M-389 -31h28M500 -31h28M305 31h28M-978 279h27M-353 279h27M-217 279h54M-188 341h27M134 341h27M285 465h26"/><path stroke="#FEE187" stroke-width="59" d="M-213 647h71"/><path stroke="#FEE187" stroke-width="62" d="M337 -465h26M317 -403h27M449 -403h27M403 -341h54M380 -279h27"/><path stroke="#FEBA54" stroke-width="61" d="M-859 526h25"/><path stroke="#FEAB49" stroke-width="61" d="M278 -526h25"/><path stroke="#FEAB49" stroke-width="62" d="M-925 -403h26M-752 -341h27M579 -155h28"/>
</g>
<use href="#gr"/>
<use href="#ol" fill="none" stroke="#b8b8b0" stroke-width="0.9" vector-effect="non-scaling-stroke"/>
<use href="#fi"/>
<use href="#co"/>
</g>
<text x="1315.3" y="670.3" font-size="31.3" font-weight="bold" text-anchor="middle" textLength="410" lengthAdjust="spacingAndGlyphs">Little Ice Age [1001–2000]</text>
<text x="1007.45" y="728.25" font-size="34.2" font-weight="bold">e</text>
<path d="M1158.44 721.7V731.7" stroke="#3a3a3a" stroke-width="1.5"/>
<text x="1158.44" y="707.3" font-size="33" text-anchor="middle">60</text>
<path d="M1262.99 721.7V731.7" stroke="#3a3a3a" stroke-width="1.5"/>
<text x="1262.99" y="707.3" font-size="33" text-anchor="middle">180</text>
<path d="M1367.61 721.7V731.7" stroke="#3a3a3a" stroke-width="1.5"/>
<text x="1367.61" y="707.3" font-size="33" text-anchor="middle">−60</text>
<path d="M1466.27 721.7V731.7" stroke="#3a3a3a" stroke-width="1.5"/>
<text x="1466.27" y="707.3" font-size="33" text-anchor="middle">60</text>
<path d="M1621.9 748.61H1632.4" stroke="#3a3a3a" stroke-width="1.5"/>
<text x="1643.9" y="761" font-size="33">90</text>
<path d="M1621.9 797.53H1632.4" stroke="#3a3a3a" stroke-width="1.5"/>
<text x="1643.9" y="809.93" font-size="33">60</text>
<path d="M1621.9 864.37H1632.4" stroke="#3a3a3a" stroke-width="1.5"/>
<text x="1643.9" y="876.77" font-size="33">30</text>
<path d="M1621.9 932.95H1632.4" stroke="#3a3a3a" stroke-width="1.5"/>
<text x="1643.9" y="945.35" font-size="33">0</text>
<path d="M1621.9 1001.53H1632.4" stroke="#3a3a3a" stroke-width="1.5"/>
<text x="1643.9" y="1013.93" font-size="33">−30</text>
<path d="M1621.9 1068.37H1632.4" stroke="#3a3a3a" stroke-width="1.5"/>
<text x="1643.9" y="1080.77" font-size="33">−60</text>
<path d="M1621.9 1117.3H1632.4" stroke="#3a3a3a" stroke-width="1.5"/>
<text x="1643.9" y="1129.7" font-size="33">−90</text>
<rect x="1039.36" y="1154.4" width="551.88" height="12.3" fill="url(#yl)" stroke="#3a3a28" stroke-width="1.2"/>
<path d="M1039.36 1166.7V1176.7" stroke="#3a3a3a" stroke-width="1.5"/>
<text x="1039.36" y="1203.5" font-size="33" text-anchor="middle">0</text>
<path d="M1162 1166.7V1176.7" stroke="#3a3a3a" stroke-width="1.5"/>
<text x="1162" y="1203.5" font-size="33" text-anchor="middle">200</text>
<path d="M1284.64 1166.7V1176.7" stroke="#3a3a3a" stroke-width="1.5"/>
<text x="1284.64" y="1203.5" font-size="33" text-anchor="middle">400</text>
<path d="M1407.28 1166.7V1176.7" stroke="#3a3a3a" stroke-width="1.5"/>
<text x="1407.28" y="1203.5" font-size="33" text-anchor="middle">600</text>
<path d="M1529.92 1166.7V1176.7" stroke="#3a3a3a" stroke-width="1.5"/>
<text x="1529.92" y="1203.5" font-size="33" text-anchor="middle">800</text>
<text x="1315.3" y="1244" font-size="33" text-anchor="middle" textLength="229" lengthAdjust="spacingAndGlyphs">Std.dev. [years]</text>
<rect x="78.7" y="1357.85" width="617.4" height="424.15" fill="none" stroke="#3a3a3a" stroke-width="1.6"/>
<g transform="translate(387.4 1569.92) scale(0.285671 0.194261)">
<use href="#ol" fill="#FFFFCC"/>
<g clip-path="url(#cp)" fill="none">
<path stroke="#FFF8BA" stroke-width="24" d="M122 -988h16M-138 988h16M-107 988h15"/><path stroke="#FFF8BA" stroke-width="37" d="M-447 -958h17M132 -958h34M-132 958h33"/><path stroke="#FFF8BA" stroke-width="50" d="M116 -869h19"/><path stroke="#FFF8BA" stroke-width="53" d="M-288 -817h21M-246 -817h20M185 -817h20"/><path stroke="#FFF8BA" stroke-width="58" d="M545 -706h22"/><path stroke="#FFF8BA" stroke-width="59" d="M-852 -647h47M331 -647h48M592 -647h23M757 647h48"/><path stroke="#FFF8BA" stroke-width="60" d="M539 -587h25"/><path stroke="#FFF8BA" stroke-width="61" d="M-808 -526h50M404 -526h25M-859 526h25M-657 526h51"/><path stroke="#FFF8BA" stroke-width="62" d="M440 -465h26M582 -403h26M-698 -341h26M645 -341h27M-407 -279h27M-326 -279h27M-190 -279h27M-136 -279h27M-767 -217h27M-630 -217h27M658 -217h27M388 -93h28M888 31h28M886 93h28M942 93h28M855 155h28M822 217h27M-951 279h27M-733 279h27M869 279h55M-967 341h27M188 341h27M886 341h27M0 403h53M106 403h26M0 465h26M518 465h52"/><path stroke="#FFE998" stroke-width="24" d="M-505 -988h15M-107 -988h15M-46 -988h15M15 -988h16M184 -988h61M306 -988h15M428 988h31M490 988h15"/><path stroke="#FFE998" stroke-width="37" d="M-563 -958h33M-232 -958h17M-66 -958h33M215 -958h33M348 -958h16M563 -958h16M0 958h17M33 958h17M116 958h16M463 958h34"/><path stroke="#FFE998" stroke-width="46" d="M-432 -916h18M-360 -916h18M-234 -916h18M36 -916h18M72 -916h36M-378 916h18M-252 916h72M-72 916h18M72 916h36M252 916h36M504 916h18"/><path stroke="#FFE998" stroke-width="50" d="M-464 -869h19M-387 -869h19M39 -869h19M-97 869h20M77 869h39M271 869h19M523 869h38"/><path stroke="#FFE998" stroke-width="53" d="M-514 -817h21M-82 -817h20M411 -817h20M657 -817h21M719 -817h20M-226 817h21M452 817h20"/><path stroke="#FFE998" stroke-width="56" d="M-563 -762h22M-520 -762h44M-152 -762h22M476 -762h22M541 -762h44M606 -762h22M650 -762h43M736 -762h43M-433 762h22M-260 762h43M-152 762h22M22 762h21M325 762h21M628 762h22M671 762h22"/><path stroke="#FFE998" stroke-width="58" d="M726 -706h23M-636 706h46M-431 706h22M159 706h23M454 706h45M567 706h23"/><path stroke="#FFE998" stroke-width="59" d="M-237 647h24M166 647h23M308 647h23M497 647h24"/><path stroke="#FFE998" stroke-width="60" d="M-417 -587h25M-343 -587h24M-245 -587h49M-98 -587h49M98 -587h49M833 -587h25M-539 587h24M-98 587h24M123 587h24M196 587h49M441 587h49M588 587h49"/><path stroke="#FFE998" stroke-width="61" d="M-429 -526h25M-253 -526h26M-202 -526h50M-101 -526h25M101 -526h51M808 -526h26M-556 526h26M202 526h51M733 526h25"/><path stroke="#FFE998" stroke-width="62" d="M104 -465h26M570 -465h52M-502 -403h26M-397 -403h27M-159 -403h27M0 -403h26M106 -403h26M-510 -341h26M-457 -341h27M-242 -341h27M-27 -341h27M349 -341h27M752 -341h27M-54 -279h27M679 -279h27M924 -279h27M-27 -217h54M164 -217h28M384 -217h54M740 -217h82M-579 -155h27M-441 -155h27M-28 -155h28M386 -155h28M-970 -93h28M-776 -93h28M-637 -93h28M-277 -93h55M-194 -93h28M139 -93h27M803 -93h28M-722 -31h56M-639 -31h28M-500 -31h28M-278 -31h56M-194 -31h27M111 -31h28M777 -31h28M-333 31h55M666 31h28M-748 93h28M-332 93h55M305 93h27M693 93h27M-745 155h28M-386 155h27M-331 155h28M-110 155h27M276 155h27M607 155h27M-740 217h28M-493 217h27M-329 217h55M-82 217h27M301 217h55M466 217h27M603 217h27M-326 279h27M598 279h27M-242 341h27M-161 341h27M591 341h54M-555 403h26M-159 403h27M370 403h27M-285 465h26M259 465h26M363 465h52"/><path stroke="#FEE187" stroke-width="24" d="M-413 -988h46M-352 -988h15M-291 -988h31M-214 -988h30M-138 -988h31M-184 988h16M-153 988h15M-61 988h15M-31 988h16"/><path stroke="#FEE187" stroke-width="37" d="M-381 -958h17M-215 -958h16M-116 -958h17M-199 958h67M-50 958h17"/><path stroke="#FEE187" stroke-width="46" d="M-486 -916h18M-342 -916h72M54 -916h18M162 -916h18M-54 916h18"/><path stroke="#FEE187" stroke-width="50" d="M-542 -869h19M-368 -869h20M-329 -869h19M-213 -869h19M58 -869h58M174 -869h20M-58 869h19"/><path stroke="#FEE187" stroke-width="53" d="M-205 -817h41M82 -817h41M164 -817h21"/><path stroke="#FEE187" stroke-width="56" d="M-217 -762h44M43 -762h22M87 -762h21M498 -762h22"/><path stroke="#FEE187" stroke-width="58" d="M250 -706h22M363 -706h23M477 -706h22M522 -706h23M-704 706h23M-91 706h23M794 706h23"/><path stroke="#FEE187" stroke-width="59" d="M-663 -647h48M237 -647h47M450 -647h23M734 -647h23M-757 647h23M-686 647h47M-95 647h24M0 647h24M734 647h23"/><path stroke="#FEE187" stroke-width="60" d="M-760 -587h25M-711 -587h74M49 -587h25M466 -587h24M-809 587h25M-760 587h25M-686 587h49M-147 587h24M-74 587h25M-25 587h123M711 587h24M833 587h50"/><path stroke="#FEE187" stroke-width="61" d="M-859 -526h25M-707 -526h50M429 -526h51M581 -526h25M631 -526h26M-758 526h101M-530 526h25M-126 526h25M-51 526h26M51 526h25M480 526h25M606 526h51M707 526h26M758 526h25M834 526h75"/><path stroke="#FEE187" stroke-width="62" d="M803 -465h26M-952 -403h27M-687 -403h26M-635 -403h53M661 -403h26M-913 -341h53M-806 -341h27M-672 -341h54M-188 -341h27M591 -341h27M-951 -279h82M-788 -279h27M-679 -279h27M-625 -279h82M-489 -279h54M-272 -279h82M-27 -279h27M598 -279h81M-849 -217h27M-685 -217h27M-493 -217h55M-247 -217h28M-55 -217h28M603 -217h27M712 -217h28M-855 -155h55M-469 -155h28M-55 -155h27M414 -155h27M469 -155h55M745 -155h83M-997 -93h27M-942 -93h56M332 -93h28M416 -93h110M859 -93h27M-1000 -31h28M-944 -31h56M-861 -31h28M333 -31h56M528 -31h27M666 -31h28M861 -31h27M389 31h55M472 31h28M694 31h28M805 31h28M944 31h56M-997 93h27M-886 93h27M360 93h111M776 93h55M-855 155h27M-772 155h27M55 155h28M331 155h55M441 155h28M-849 217h27M-767 217h27M0 217h27M356 217h28M438 217h28M-978 279h27M-842 279h54M-761 279h28M81 279h28M136 279h27M272 279h27M788 279h27M-806 341h54M-134 341h27M27 341h54M107 341h27M269 341h26M-820 403h27M-714 403h27M-582 403h27M-132 403h79M132 403h27M-803 465h26M-700 465h26M-570 465h52M-155 465h103M52 465h78M596 465h26M674 465h26"/><path stroke="#FED976" stroke-width="24" d="M-367 -988h15"/><path stroke="#FED976" stroke-width="58" d="M431 -706h23"/><path stroke="#FED976" stroke-width="59" d="M426 -647h24M521 -647h23M568 -647h24"/><path stroke="#FED976" stroke-width="60" d="M-735 -587h24M564 -587h24M-883 587h25M-833 587h24"/><path stroke="#FED976" stroke-width="61" d="M-834 -526h26M-758 -526h51M480 -526h25M530 -526h51M-909 526h50M-834 526h51M808 526h26"/><path stroke="#FED976" stroke-width="62" d="M-907 -465h52M-829 -465h26M492 -465h26M-925 -403h26M-767 -403h27M-779 -341h27M-706 -279h27M-652 -279h27M-109 -279h28M-959 -217h27M416 -31h28M914 93h28M82 217h28M849 217h28M109 279h27M217 279h27M924 279h54M-940 341h27M-752 341h54M81 341h26M134 341h27M806 341h27M-952 403h132M-793 403h26M-740 403h26M-933 465h104M-777 465h77M-622 465h26M725 465h52"/><path stroke="#FEC965" stroke-width="59" d="M473 -647h24"/><path stroke="#FEC965" stroke-width="62" d="M-829 465h26"/>
</g>
<use href="#gr"/>
<use href="#ol" fill="none" stroke="#b8b8b0" stroke-width="0.9" vector-effect="non-scaling-stroke"/>
<use href="#fi"/>
<use href="#co"/>
</g>
<text x="387.4" y="1296.45" font-size="31.3" font-weight="bold" text-anchor="middle" textLength="454" lengthAdjust="spacingAndGlyphs">Roman Warm Period [1–750]</text>
<text x="81.5" y="1357.15" font-size="34.2" font-weight="bold">f</text>
<path d="M229.47 1347.85V1357.85" stroke="#3a3a3a" stroke-width="1.5"/>
<text x="229.47" y="1333.45" font-size="33" text-anchor="middle">60</text>
<path d="M334.74 1347.85V1357.85" stroke="#3a3a3a" stroke-width="1.5"/>
<text x="334.74" y="1333.45" font-size="33" text-anchor="middle">180</text>
<path d="M440.06 1347.85V1357.85" stroke="#3a3a3a" stroke-width="1.5"/>
<text x="440.06" y="1333.45" font-size="33" text-anchor="middle">−60</text>
<path d="M539.4 1347.85V1357.85" stroke="#3a3a3a" stroke-width="1.5"/>
<text x="539.4" y="1333.45" font-size="33" text-anchor="middle">60</text>
<path d="M68.2 1375.66H78.7" stroke="#3a3a3a" stroke-width="1.5"/>
<text x="58.1" y="1388.06" font-size="33" text-anchor="end">90</text>
<path d="M68.2 1427.22H78.7" stroke="#3a3a3a" stroke-width="1.5"/>
<text x="58.1" y="1439.62" font-size="33" text-anchor="end">60</text>
<path d="M68.2 1497.66H78.7" stroke="#3a3a3a" stroke-width="1.5"/>
<text x="58.1" y="1510.06" font-size="33" text-anchor="end">30</text>
<path d="M68.2 1569.92H78.7" stroke="#3a3a3a" stroke-width="1.5"/>
<text x="58.1" y="1582.33" font-size="33" text-anchor="end">0</text>
<path d="M68.2 1642.19H78.7" stroke="#3a3a3a" stroke-width="1.5"/>
<text x="58.1" y="1654.59" font-size="33" text-anchor="end">−30</text>
<path d="M68.2 1712.63H78.7" stroke="#3a3a3a" stroke-width="1.5"/>
<text x="58.1" y="1725.03" font-size="33" text-anchor="end">−60</text>
<path d="M68.2 1764.19H78.7" stroke="#3a3a3a" stroke-width="1.5"/>
<text x="58.1" y="1776.59" font-size="33" text-anchor="end">−90</text>
<rect x="109.57" y="1802.2" width="555.66" height="12.3" fill="url(#yl)" stroke="#3a3a28" stroke-width="1.2"/>
<path d="M109.57 1814.5V1824.5" stroke="#3a3a3a" stroke-width="1.5"/>
<text x="109.57" y="1851.3" font-size="33" text-anchor="middle">0</text>
<path d="M255.03 1814.5V1824.5" stroke="#3a3a3a" stroke-width="1.5"/>
<text x="255.03" y="1851.3" font-size="33" text-anchor="middle">500</text>
<path d="M400.49 1814.5V1824.5" stroke="#3a3a3a" stroke-width="1.5"/>
<text x="400.49" y="1851.3" font-size="33" text-anchor="middle">1000</text>
<path d="M545.95 1814.5V1824.5" stroke="#3a3a3a" stroke-width="1.5"/>
<text x="545.95" y="1851.3" font-size="33" text-anchor="middle">1500</text>
<text x="387.4" y="1891.8" font-size="33" text-anchor="middle" textLength="271" lengthAdjust="spacingAndGlyphs">90% range [years]</text>
<rect x="707.6" y="1357.85" width="606.6" height="424.15" fill="none" stroke="#3a3a3a" stroke-width="1.6"/>
<g transform="translate(1010.9 1569.92) scale(0.280674 0.194261)">
<use href="#ol" fill="#FFFFCC"/>
<g clip-path="url(#cp)" fill="none">
<path stroke="#FFF8BA" stroke-width="24" d="M520 988h15"/><path stroke="#FFF8BA" stroke-width="37" d="M-315 958h17"/><path stroke="#FFF8BA" stroke-width="46" d="M-504 -916h18M-432 916h18M-396 916h18M-144 916h18M-108 916h18M450 916h18"/><path stroke="#FFF8BA" stroke-width="50" d="M-523 -869h20M-232 869h38M406 869h20M445 869h19M542 869h19"/><path stroke="#FFF8BA" stroke-width="53" d="M431 -817h41M-575 817h61M-493 817h62M-144 817h21M370 817h20M493 817h41M596 817h20"/><path stroke="#FFF8BA" stroke-width="56" d="M433 -762h43M-563 762h22M-498 762h22M-303 762h22M390 762h21M520 762h43M736 762h43"/><path stroke="#FFF8BA" stroke-width="58" d="M-726 -706h22M-204 706h22M363 706h23M431 706h23M681 706h45"/><path stroke="#FFF8BA" stroke-width="59" d="M402 -647h24M828 -647h24M-592 647h24M-379 647h24M-118 647h23M426 647h24M757 647h71"/><path stroke="#FFF8BA" stroke-width="60" d="M490 -587h49M-613 587h25M-441 587h49M-270 587h25M490 587h25M662 587h24M735 587h25"/><path stroke="#FFF8BA" stroke-width="61" d="M530 526h26"/><path stroke="#FFF8BA" stroke-width="62" d="M788 -279h27M795 -217h27M717 -155h28M83 -93h28M-250 -31h28M-194 -31h27M83 31h84M111 93h55M332 93h28M-959 217h27M-849 217h27M356 217h28M-951 279h82M-788 279h27M-913 341h27M-779 341h27M-952 403h27M582 403h26"/><path stroke="#FFE998" stroke-width="24" d="M-260 -988h15M-107 -988h15M0 -988h15M92 -988h46M-459 988h15M199 988h15"/><path stroke="#FFE998" stroke-width="37" d="M-348 -958h17M-166 -958h17M-132 -958h33M99 -958h33M331 -958h17M579 -958h17M-480 958h17M-215 958h16M-66 958h33M215 958h17"/><path stroke="#FFE998" stroke-width="46" d="M-180 -916h54M-90 -916h18M-36 -916h54M72 -916h36M180 -916h18M288 -916h18M252 916h18"/><path stroke="#FFE998" stroke-width="50" d="M-445 -869h19M-252 -869h20M-174 -869h19M-135 -869h19M-19 -869h19M77 -869h39M194 -869h38M310 -869h38M-77 869h19"/><path stroke="#FFE998" stroke-width="53" d="M-493 -817h41M226 -817h20M329 -817h41M616 -817h21M-21 817h21"/><path stroke="#FFE998" stroke-width="56" d="M-585 -762h22M-498 -762h22M-303 -762h22M671 -762h22M260 762h21"/><path stroke="#FFE998" stroke-width="58" d="M227 -706h23M567 -706h23M-636 706h23"/><path stroke="#FFE998" stroke-width="59" d="M237 -647h23M592 -647h23M781 -647h24M-757 647h23M-686 647h23M-639 647h24M0 647h24M118 647h24M284 647h24"/><path stroke="#FFE998" stroke-width="60" d="M-833 -587h24M-294 -587h24M123 -587h24M245 -587h49M760 -587h24M-686 587h49M-25 587h25M196 587h25M245 587h25M319 587h24"/><path stroke="#FFE998" stroke-width="61" d="M-682 -526h25M-404 -526h25M-76 -526h25M51 -526h25M253 -526h50M455 -526h50M808 -526h26M859 -526h25M-783 526h25M-707 526h25M25 526h51M253 526h50"/><path stroke="#FFE998" stroke-width="62" d="M-803 -465h26M181 -465h26M285 -465h26M415 -465h51M-846 -403h53M-740 -403h26M-661 -403h26M264 -403h53M793 -403h27M-698 -341h26M-564 -341h27M-376 -341h54M-81 -341h81M215 -341h54M430 -341h54M618 -341h27M806 -341h27M-380 -279h54M-299 -279h27M27 -279h27M217 -279h55M435 -279h54M-904 -217h27M-301 -217h27M-247 -217h83M438 -217h28M548 -217h27M630 -217h28M-993 -155h28M-386 -155h27M-221 -155h28M-110 -155h27M469 -155h28M910 -155h55M-360 -93h28M776 -93h55M-389 -31h56M444 -31h28M694 -31h28M-361 31h28M222 31h56M389 31h55M-886 93h27M-637 93h28M-388 93h28M859 93h27M-607 155h28M607 155h27M-247 217h28M55 217h55M192 217h27M247 217h54M329 217h27M740 217h27M904 217h28M-109 279h55M326 279h27M380 279h27M-107 341h26M322 341h27M403 341h27M-635 403h27M-264 403h26M212 403h26M317 403h53M397 403h52M-596 465h26M-52 465h26M285 465h26M363 465h52"/><path stroke="#FEE187" stroke-width="24" d="M-413 -988h15M-275 -988h15M-245 -988h16M-444 988h16M-352 988h15M-214 988h92M321 988h16M398 988h46M490 988h30"/><path stroke="#FEE187" stroke-width="37" d="M-463 -958h16M-397 -958h16M-364 -958h16M-298 -958h66M-497 958h17M-463 958h16M-430 958h33M-381 958h17M-199 958h67M-116 958h17M281 958h17M430 958h17M497 958h66"/><path stroke="#FEE187" stroke-width="46" d="M-468 -916h18M-432 -916h36M-468 916h18M-360 916h36M-252 916h18M-162 916h18M270 916h18M306 916h18M378 916h18"/><path stroke="#FEE187" stroke-width="50" d="M-464 -869h19M-174 869h19M-116 869h19M-39 869h20M271 869h39M600 869h19M677 869h20"/><path stroke="#FEE187" stroke-width="53" d="M-657 -817h41M-596 -817h62M637 -817h20M-123 817h20M-41 817h20M246 817h42M329 817h41M637 817h20M678 817h20"/><path stroke="#FEE187" stroke-width="56" d="M-693 -762h43M-606 -762h21M-563 -762h22M368 -762h22M650 -762h21M-65 762h22M-22 762h22M281 762h22M714 762h22"/><path stroke="#FEE187" stroke-width="58" d="M-817 -706h23M-749 -706h23M340 -706h23M386 -706h68M477 -706h22M545 -706h22M-91 706h23M-45 706h45M295 706h23M772 706h22"/><path stroke="#FEE187" stroke-width="59" d="M-828 -647h71M260 -647h24M355 -647h47M497 -647h24M805 -647h23M-95 647h24M-24 647h24"/><path stroke="#FEE187" stroke-width="60" d="M466 -587h24M539 -587h25M784 -587h49M-833 587h24M-123 587h98M0 587h25M392 587h25"/><path stroke="#FEE187" stroke-width="61" d="M581 -526h25M-859 526h51M-379 526h25M-328 526h25M-202 526h101M-76 526h25M429 526h51M884 526h25"/><path stroke="#FEE187" stroke-width="62" d="M687 -403h27M725 -341h27M833 -341h27M913 -341h27M625 -279h27M733 -279h28M815 -279h54M-959 -217h27M932 -217h27M-910 -155h27M-303 -155h55M-193 -155h27M28 -155h27M634 -155h56M965 -155h28M-942 -93h56M-277 -93h28M-139 -93h28M-83 -93h28M-916 -31h28M-305 -31h27M-139 -31h28M56 -31h27M167 -31h27M361 -31h28M472 -31h28M555 -31h28M777 -31h28M861 -31h27M-944 31h28M-888 31h55M-333 31h55M-139 31h28M28 31h28M167 31h27M361 31h28M805 31h28M861 31h27M916 31h28M-360 93h28M-305 93h28M-166 93h27M28 93h55M166 93h56M249 93h28M360 93h83M471 93h28M582 93h27M-938 155h83M-276 155h55M-83 155h83M83 155h110M248 155h83M359 155h27M552 155h27M883 155h55M-986 217h27M-904 217h27M-740 217h28M-192 217h28M301 217h28M438 217h28M575 217h55M822 217h27M877 217h27M932 217h27M-815 279h27M598 279h27M869 279h55M-672 341h27M349 341h27M672 341h26M752 341h27M886 341h27M-925 403h26M-873 403h27M-608 403h26M370 403h27M529 403h53M608 403h27M767 403h26M-933 465h52M518 465h52M648 465h26M751 465h52M829 465h26"/><path stroke="#FED976" stroke-width="24" d="M-321 988h30"/><path stroke="#FED976" stroke-width="37" d="M-397 958h16M-232 958h17"/><path stroke="#FED976" stroke-width="46" d="M-378 916h18M-306 916h18M468 916h18M540 916h18"/><path stroke="#FED976" stroke-width="50" d="M-387 869h19M-348 869h19M-310 869h20M-271 869h19M-194 869h20M-155 869h39M329 869h19M484 869h58M581 869h19"/><path stroke="#FED976" stroke-width="53" d="M-514 817h21M-431 817h20M-226 817h21M-164 817h20M-103 817h21M390 817h21"/><path stroke="#FED976" stroke-width="56" d="M-541 762h21M-476 762h21M-108 762h43M368 762h22M411 762h44M628 762h22M671 762h43"/><path stroke="#FED976" stroke-width="58" d="M454 -706h23M522 -706h23M-567 706h22M-499 706h22M-272 706h22M-68 706h23M613 706h23M658 706h23"/><path stroke="#FED976" stroke-width="59" d="M426 -647h71M-71 647h24M379 647h23M663 647h23"/><path stroke="#FED976" stroke-width="60" d="M-490 587h24M-368 587h25M-294 587h24M-196 587h49M417 587h73M515 587h24M784 587h25"/><path stroke="#FED976" stroke-width="61" d="M-530 526h75M-303 526h50M556 526h50M657 526h25M707 526h26M808 526h51"/><path stroke="#FED976" stroke-width="62" d="M740 -217h27M-278 -31h28M-222 -31h28M-167 -31h28M-28 -31h28M-250 31h111M-111 31h55M-222 93h56M-139 93h28M-83 93h28M0 93h28M-993 155h28M-193 155h110M-932 217h28M-806 341h27M687 403h27M570 465h26M725 465h26"/><path stroke="#FEC965" stroke-width="46" d="M-288 916h36M-234 916h18M486 916h18"/><path stroke="#FEC965" stroke-width="50" d="M-426 869h39M-329 869h19M-290 869h19M-252 869h20M464 869h20"/><path stroke="#FEC965" stroke-width="53" d="M-411 817h21M-370 817h82M-267 817h21M411 817h41M472 817h21M616 817h21"/><path stroke="#FEC965" stroke-width="56" d="M-455 762h44M-390 762h44M-325 762h22M-217 762h22M-173 762h65M455 762h43M563 762h22M606 762h22M650 762h21"/><path stroke="#FEC965" stroke-width="58" d="M-477 706h23M-409 706h46M-340 706h45M-227 706h23M-159 706h23M409 706h22M567 706h46"/><path stroke="#FEC965" stroke-width="59" d="M-426 647h24M-308 647h24M-166 647h24M402 647h24M521 647h23M568 647h24M615 647h48M686 647h71M828 647h24"/><path stroke="#FEC965" stroke-width="60" d="M-539 587h49M-466 587h25M-392 587h24M-343 587h24M-221 587h25M-147 587h24M539 587h49M613 587h49M686 587h49"/><path stroke="#FEC965" stroke-width="61" d="M606 526h51M682 526h25M733 526h25"/><path stroke="#FEC965" stroke-width="62" d="M-111 93h28"/><path stroke="#FEBA54" stroke-width="50" d="M-368 869h20"/><path stroke="#FEBA54" stroke-width="53" d="M-390 817h20M-288 817h21M555 817h41"/><path stroke="#FEBA54" stroke-width="56" d="M-411 762h21M-346 762h21M-281 762h64M498 762h22"/><path stroke="#FEBA54" stroke-width="58" d="M-522 706h23M-295 706h23M-182 706h23M454 706h91"/><path stroke="#FEBA54" stroke-width="59" d="M-521 647h24M-355 647h47M-213 647h24M450 647h47"/><path stroke="#FEBA54" stroke-width="60" d="M-319 587h25M588 587h25"/><path stroke="#FEAB49" stroke-width="53" d="M-246 817h20M452 817h20M534 817h21"/><path stroke="#FEAB49" stroke-width="56" d="M585 762h21"/><path stroke="#FEAB49" stroke-width="58" d="M-454 706h45M-363 706h23M-250 706h23M545 706h22M636 706h22"/><path stroke="#FEAB49" stroke-width="59" d="M-497 647h71M-402 647h23M-284 647h71M-189 647h23M497 647h24M544 647h24M592 647h23"/>
</g>
<use href="#gr"/>
<use href="#ol" fill="none" stroke="#b8b8b0" stroke-width="0.9" vector-effect="non-scaling-stroke"/>
<use href="#fi"/>
<use href="#co"/>
</g>
<text x="1010.9" y="1296.45" font-size="31.3" font-weight="bold" text-anchor="middle" textLength="606" lengthAdjust="spacingAndGlyphs">Medieval Climate Anomaly [751–1350]</text>
<text x="705.5" y="1350.5" font-size="34.2" font-weight="bold">g</text>
<path d="M855.73 1347.85V1357.85" stroke="#3a3a3a" stroke-width="1.5"/>
<text x="855.73" y="1333.45" font-size="33" text-anchor="middle">60</text>
<path d="M959.16 1347.85V1357.85" stroke="#3a3a3a" stroke-width="1.5"/>
<text x="959.16" y="1333.45" font-size="33" text-anchor="middle">180</text>
<path d="M1062.64 1347.85V1357.85" stroke="#3a3a3a" stroke-width="1.5"/>
<text x="1062.64" y="1333.45" font-size="33" text-anchor="middle">−60</text>
<path d="M1160.24 1347.85V1357.85" stroke="#3a3a3a" stroke-width="1.5"/>
<text x="1160.24" y="1333.45" font-size="33" text-anchor="middle">60</text>
<rect x="737.93" y="1802.2" width="545.94" height="12.3" fill="url(#yl)" stroke="#3a3a28" stroke-width="1.2"/>
<path d="M737.93 1814.5V1824.5" stroke="#3a3a3a" stroke-width="1.5"/>
<text x="737.93" y="1851.3" font-size="33" text-anchor="middle">0</text>
<path d="M880.85 1814.5V1824.5" stroke="#3a3a3a" stroke-width="1.5"/>
<text x="880.85" y="1851.3" font-size="33" text-anchor="middle">500</text>
<path d="M1023.76 1814.5V1824.5" stroke="#3a3a3a" stroke-width="1.5"/>
<text x="1023.76" y="1851.3" font-size="33" text-anchor="middle">1000</text>
<path d="M1166.68 1814.5V1824.5" stroke="#3a3a3a" stroke-width="1.5"/>
<text x="1166.68" y="1851.3" font-size="33" text-anchor="middle">1500</text>
<text x="1010.9" y="1891.8" font-size="33" text-anchor="middle" textLength="271" lengthAdjust="spacingAndGlyphs">90% range [years]</text>
<rect x="1325.6" y="1357.85" width="616.5" height="424.15" fill="none" stroke="#3a3a3a" stroke-width="1.6"/>
<g transform="translate(1633.85 1569.92) scale(0.285255 0.194261)">
<use href="#ol" fill="#FFFFCC"/>
<g clip-path="url(#cp)" fill="none">
<path stroke="#FEBA54" stroke-width="37" d="M-182 958h199"/><path stroke="#FEBA54" stroke-width="46" d="M-162 916h126M0 916h18"/><path stroke="#FEBA54" stroke-width="50" d="M-135 869h174"/><path stroke="#FEBA54" stroke-width="53" d="M-82 817h41M-21 817h103"/><path stroke="#FEBA54" stroke-width="56" d="M0 762h43"/><path stroke="#BF0126" stroke-width="37" d="M50 958h33"/><path stroke="#BF0126" stroke-width="46" d="M-36 916h36M18 916h90"/><path stroke="#BF0126" stroke-width="50" d="M39 869h116"/><path stroke="#BF0126" stroke-width="53" d="M82 817h21"/><path stroke="#BF0126" stroke-width="58" d="M-204 706h45"/>
</g>
<use href="#gr"/>
<use href="#ol" fill="none" stroke="#b8b8b0" stroke-width="0.9" vector-effect="non-scaling-stroke"/>
<use href="#fi"/>
<use href="#co"/>
</g>
<text x="1633.85" y="1296.45" font-size="31.3" font-weight="bold" text-anchor="middle" textLength="480" lengthAdjust="spacingAndGlyphs">Current Warm Period [1–2000]</text>
<text x="1323.4" y="1357" font-size="34.2" font-weight="bold">h</text>
<path d="M1476.15 1347.85V1357.85" stroke="#3a3a3a" stroke-width="1.5"/>
<text x="1476.15" y="1333.45" font-size="33" text-anchor="middle">60</text>
<path d="M1581.26 1347.85V1357.85" stroke="#3a3a3a" stroke-width="1.5"/>
<text x="1581.26" y="1333.45" font-size="33" text-anchor="middle">180</text>
<path d="M1686.44 1347.85V1357.85" stroke="#3a3a3a" stroke-width="1.5"/>
<text x="1686.44" y="1333.45" font-size="33" text-anchor="middle">−60</text>
<path d="M1785.63 1347.85V1357.85" stroke="#3a3a3a" stroke-width="1.5"/>
<text x="1785.63" y="1333.45" font-size="33" text-anchor="middle">60</text>
<path d="M1942.1 1375.66H1952.6" stroke="#3a3a3a" stroke-width="1.5"/>
<text x="1964.1" y="1388.06" font-size="33">90</text>
<path d="M1942.1 1427.22H1952.6" stroke="#3a3a3a" stroke-width="1.5"/>
<text x="1964.1" y="1439.62" font-size="33">60</text>
<path d="M1942.1 1497.66H1952.6" stroke="#3a3a3a" stroke-width="1.5"/>
<text x="1964.1" y="1510.06" font-size="33">30</text>
<path d="M1942.1 1569.92H1952.6" stroke="#3a3a3a" stroke-width="1.5"/>
<text x="1964.1" y="1582.33" font-size="33">0</text>
<path d="M1942.1 1642.19H1952.6" stroke="#3a3a3a" stroke-width="1.5"/>
<text x="1964.1" y="1654.59" font-size="33">−30</text>
<path d="M1942.1 1712.63H1952.6" stroke="#3a3a3a" stroke-width="1.5"/>
<text x="1964.1" y="1725.03" font-size="33">−60</text>
<path d="M1942.1 1764.19H1952.6" stroke="#3a3a3a" stroke-width="1.5"/>
<text x="1964.1" y="1776.59" font-size="33">−90</text>
<rect x="1356.42" y="1802.2" width="554.85" height="12.3" fill="url(#yl)" stroke="#3a3a28" stroke-width="1.2"/>
<path d="M1356.42 1814.5V1824.5" stroke="#3a3a3a" stroke-width="1.5"/>
<text x="1356.42" y="1851.3" font-size="33" text-anchor="middle">0</text>
<path d="M1501.67 1814.5V1824.5" stroke="#3a3a3a" stroke-width="1.5"/>
<text x="1501.67" y="1851.3" font-size="33" text-anchor="middle">500</text>
<path d="M1646.92 1814.5V1824.5" stroke="#3a3a3a" stroke-width="1.5"/>
<text x="1646.92" y="1851.3" font-size="33" text-anchor="middle">1000</text>
<path d="M1792.17 1814.5V1824.5" stroke="#3a3a3a" stroke-width="1.5"/>
<text x="1792.17" y="1851.3" font-size="33" text-anchor="middle">1500</text>
<text x="1633.85" y="1891.8" font-size="33" text-anchor="middle" textLength="271" lengthAdjust="spacingAndGlyphs">90% range [years]</text>
<rect x="396.1" y="1997.5" width="604.1" height="402.5" fill="none" stroke="#3a3a3a" stroke-width="1.6"/>
<g transform="translate(698.15 2198.75) scale(0.279517 0.184345)">
<use href="#ol" fill="#FFFFCC"/>
<g clip-path="url(#cp)" fill="none">
<path stroke="#FFF8BA" stroke-width="24" d="M-321 -988h15M-184 -988h16M-153 -988h15M-31 -988h16M31 -988h15M-245 988h31M15 988h16"/><path stroke="#FFF8BA" stroke-width="37" d="M-331 -958h16M-281 -958h16M-33 -958h33M83 -958h16M-265 958h33M248 958h17M315 958h16M480 958h17M546 958h17"/><path stroke="#FFF8BA" stroke-width="46" d="M-360 -916h36M-180 -916h18M-90 -916h18M0 -916h18M72 -916h18M108 -916h36M-486 916h18M540 916h36M594 916h18"/><path stroke="#FFF8BA" stroke-width="50" d="M-368 -869h20M-290 -869h19M-116 -869h39M135 -869h20M194 -869h38M-503 869h19M-387 869h19M-310 869h20M58 869h19M348 869h20M581 869h19"/><path stroke="#FFF8BA" stroke-width="53" d="M-493 -817h41M-555 817h21M-370 817h21M288 817h20M431 817h21"/><path stroke="#FFF8BA" stroke-width="56" d="M303 -762h43M-476 762h21M-411 762h43M-303 762h43M-238 762h21M-43 762h43M390 762h43"/><path stroke="#FFF8BA" stroke-width="58" d="M-499 -706h22M-454 -706h23M-272 -706h45M272 -706h46M-477 706h46M-23 706h23M295 706h23"/><path stroke="#FFF8BA" stroke-width="59" d="M-473 -647h23M-355 -647h24M213 -647h24M402 -647h24M781 -647h24M-852 647h47M-710 647h47M213 647h24"/><path stroke="#FFF8BA" stroke-width="60" d="M-809 -587h25M-539 -587h24M-172 -587h25M392 -587h25M441 -587h25M735 -587h25M809 -587h24M-392 587h73M-98 587h49M123 587h24M343 587h49M466 587h24M515 587h24"/><path stroke="#FFF8BA" stroke-width="61" d="M-859 -526h51M-177 -526h25M354 -526h25M-783 526h25M-707 526h25M-581 526h25M-404 526h25M-227 526h25M-25 526h25M101 526h51M253 526h25M379 526h25M480 526h25M606 526h25"/><path stroke="#FFF8BA" stroke-width="62" d="M-777 -465h52M-207 -465h77M-793 -403h26M-714 -403h79M-449 -403h26M-185 -403h26M846 -403h27M-940 -341h54M-618 -341h27M-215 -341h27M430 -341h27M860 -341h26M-978 -279h54M-163 -279h54M462 -279h27M869 -279h27M-959 -217h27M-767 -217h55M-630 -217h27M-55 -217h28M658 -217h54M849 -217h28M552 -155h55M662 -155h28M-776 -93h28M55 -93h56M665 -93h28M748 -93h28M-888 -31h27M-694 -31h28M56 -31h55M416 -31h28M-555 31h27M-444 31h28M-361 31h28M28 31h28M444 31h56M583 31h28M-748 93h28M-222 93h56M139 93h27M748 93h28M-993 155h28M-828 155h28M-717 155h27M-469 155h28M-386 155h27M-138 155h28M-83 155h83M497 155h27M607 155h55M690 155h55M772 155h28M938 155h27M-932 217h28M-822 217h55M-630 217h27M-548 217h27M-493 217h27M-301 217h27M-55 217h55M603 217h109M932 217h27M-924 279h28M-761 279h28M-217 279h27M136 279h27M598 279h27M652 279h27M706 279h27M-967 341h54M134 341h27M591 341h27M860 341h26M-899 403h53M-740 403h26M-582 403h53M-502 403h26M-370 403h26M-317 403h26M-238 403h26M317 403h27M661 403h26M925 403h27M-933 465h52M-777 465h103M-648 465h26M-337 465h26M-104 465h26M285 465h26M622 465h52"/><path stroke="#FFE998" stroke-width="24" d="M-505 -988h15M184 -988h15M214 -988h31"/><path stroke="#FFE998" stroke-width="37" d="M248 -958h17M315 -958h16"/><path stroke="#FFE998" stroke-width="46" d="M486 -916h18M594 -916h18"/><path stroke="#FFE998" stroke-width="50" d="M503 -869h39"/><path stroke="#FFE998" stroke-width="53" d="M678 -817h20"/><path stroke="#FFE998" stroke-width="56" d="M520 -762h21M714 -762h22"/><path stroke="#FFE998" stroke-width="58" d="M-23 -706h23M68 -706h45M681 -706h23"/><path stroke="#FFE998" stroke-width="59" d="M-95 -647h24M0 -647h47M615 -647h24"/><path stroke="#FFE998" stroke-width="60" d="M637 -587h25"/><path stroke="#FFE998" stroke-width="61" d="M227 -526h26"/><path stroke="#FFE998" stroke-width="62" d="M155 -465h26M185 -403h27M54 -279h27M109 -279h27M217 -279h55"/><path stroke="#FEE187" stroke-width="24" d="M-337 -988h16M-306 -988h15M-214 -988h30M-107 -988h15M76 -988h16M245 -988h15M122 988h16M184 988h15M291 988h15M321 988h16M459 988h31"/><path stroke="#FEE187" stroke-width="37" d="M-364 -958h16M-315 -958h17M-232 -958h33M-132 -958h33M-66 -958h33M66 -958h17M199 -958h16M232 -958h16M-546 958h16M-497 958h17M132 958h17M182 958h17M298 958h17M430 958h17M513 958h17"/><path stroke="#FEE187" stroke-width="46" d="M-486 -916h18M-252 -916h18M-144 -916h18M-36 -916h18M36 -916h18M234 916h18M306 916h18M432 916h72M612 916h36"/><path stroke="#FEE187" stroke-width="50" d="M-542 -869h19M-406 -869h19M-271 -869h19M-19 -869h19M58 -869h19M290 -869h20M387 -869h19M-697 869h20M39 869h19M135 869h20M426 869h19M464 869h59M619 869h78"/><path stroke="#FEE187" stroke-width="53" d="M-719 -817h21M-575 -817h20M-349 -817h20M-308 -817h20M-267 -817h21M-226 -817h21M144 -817h20M226 -817h20M-739 817h20M-698 817h41M-637 817h21M164 817h41M390 817h21M514 817h20M616 817h21M678 817h41"/><path stroke="#FEE187" stroke-width="56" d="M-671 -762h21M-585 -762h44M-520 -762h22M-433 -762h22M-390 -762h44M238 762h22M325 762h21M520 762h21M736 762h43"/><path stroke="#FEE187" stroke-width="58" d="M-726 -706h22M-681 -706h45M-567 -706h22M23 -706h22M477 -706h22M522 -706h23M182 706h22M386 706h23M749 706h23M794 706h23"/><path stroke="#FEE187" stroke-width="59" d="M-710 -647h24M-615 -647h47M-189 -647h23M-142 -647h24M95 -647h23M284 -647h24M473 -647h24M521 -647h47M805 -647h23M-450 647h24M-402 647h47M781 647h24"/><path stroke="#FEE187" stroke-width="60" d="M-515 -587h25M368 -587h24M686 -587h25M-417 587h25M74 587h24M858 587h25"/><path stroke="#FEE187" stroke-width="61" d="M-581 -526h25M-530 -526h25M-126 -526h25M303 -526h51M556 -526h25M631 -526h102"/><path stroke="#FEE187" stroke-width="62" d="M-363 -465h26M363 -465h77M648 -465h26M-899 -403h26M-608 -403h26M-370 -403h53M-159 -403h27M159 -403h26M370 -403h53M449 -403h27M555 -403h27M635 -403h26M-752 -341h27M-537 -341h27M-484 -341h27M-269 -341h27M-81 -341h27M-27 -341h54M242 -341h27M618 -341h27M-733 -279h27M-326 -279h27M0 -279h54M516 -279h27M570 -279h28M706 -279h27M301 -217h28M83 -155h27M221 -155h27M555 31h28M611 31h28M-970 93h28M-435 279h28M0 279h27M-242 341h27M-188 341h27M940 341h27M-423 403h26M-440 465h25M-389 465h26M52 465h26"/><path stroke="#FED976" stroke-width="24" d="M0 -988h31M61 -988h15M153 -988h15M-459 988h61M-382 988h15M-321 988h76M-61 988h15M0 988h15M61 988h15M92 988h30M168 988h16M199 988h92M337 988h15M367 988h31"/><path stroke="#FED976" stroke-width="37" d="M-348 -958h17M0 -958h33M-513 958h16M-480 958h50M-381 958h50M-315 958h34M-182 958h16M-116 958h17M-50 958h33M83 958h16M116 958h16M149 958h17M199 958h16M232 958h16M381 958h16M497 958h16"/><path stroke="#FED976" stroke-width="46" d="M-378 -916h18M-18 -916h18M-648 916h18M-432 916h18M-396 916h36M-342 916h36M-252 916h18M-126 916h18M-54 916h18M0 916h18M36 916h18M90 916h36M144 916h18M198 916h36M378 916h18M576 916h18"/><path stroke="#FED976" stroke-width="50" d="M-426 -869h20M-39 -869h20M-600 869h19M-426 869h20M-329 869h19M-252 869h20M-77 869h38M19 869h20M77 869h20M116 869h19M232 869h20M387 869h39M523 869h19"/><path stroke="#FED976" stroke-width="53" d="M-657 -817h20M-370 -817h21M123 -817h21M164 -817h62M246 -817h21M-575 817h20M-514 817h42M-349 817h20M-288 817h42M-123 817h20M-82 817h41M21 817h41M82 817h41M226 817h20M452 817h20M637 817h20"/><path stroke="#FED976" stroke-width="56" d="M-693 -762h22M-606 -762h21M-325 -762h22M195 -762h86M346 -762h22M-779 762h43M-714 762h21M-585 762h22M-498 762h22M-368 762h22M-65 762h22M43 762h44M152 762h65M346 762h22M650 762h21"/><path stroke="#FED976" stroke-width="58" d="M-704 -706h23M-522 -706h23M-363 -706h45M-204 -706h45M-658 706h22M-590 706h45M-409 706h69M-272 706h22M23 706h45M159 706h23M204 706h23M363 706h23M431 706h23M704 706h22M772 706h22"/><path stroke="#FED976" stroke-width="59" d="M-805 -647h24M-757 -647h47M-544 -647h23M-450 -647h24M-379 -647h24M-331 -647h23M-284 -647h24M-213 -647h24M331 -647h24M497 -647h24M757 -647h24M-568 647h24M-426 647h24M-331 647h23M-284 647h71M47 647h48M142 647h47M237 647h23M402 647h24M568 647h24M828 647h24"/><path stroke="#FED976" stroke-width="60" d="M-760 -587h74M-564 -587h25M-490 -587h24M-392 -587h24M294 -587h49M711 -587h24M760 -587h49M-515 587h25M-294 587h24M-196 587h24M49 587h25M196 587h25M441 587h25M539 587h49M833 587h25"/><path stroke="#FED976" stroke-width="61" d="M-808 -526h101M-606 -526h25M-556 -526h26M-404 -526h25M-253 -526h26M-202 -526h25M379 -526h25M733 -526h25M783 -526h25M834 -526h50M-556 526h26M-429 526h25M-177 526h25M76 526h25M278 526h25M354 526h25M404 526h25M455 526h25M505 526h25M556 526h25M682 526h25M758 526h25M884 526h25"/><path stroke="#FED976" stroke-width="62" d="M-933 -465h26M-881 -465h52M-674 -465h52M-389 -465h26M-259 -465h52M725 -465h26M777 -465h26M855 -465h26M907 -465h26M-952 -403h27M-873 -403h53M-767 -403h27M-264 -403h79M423 -403h26M661 -403h26M767 -403h26M-967 -341h27M-886 -341h26M-107 -341h26M564 -341h27M725 -341h81M886 -341h27M-924 -279h28M-380 -279h54M-272 -279h55M-109 -279h28M-54 -279h54M489 -279h27M543 -279h27M598 -279h27M733 -279h82M951 -279h27M-795 -217h28M-712 -217h82M-493 -217h27M-438 -217h54M-247 -217h28M-82 -217h27M0 -217h55M575 -217h55M740 -217h27M822 -217h27M-883 -155h28M55 -155h28M193 -155h28M331 -155h28M607 -155h27M690 -155h27M855 -155h28M-970 -93h28M139 -93h27M222 -93h55M305 -93h27M443 -93h56M526 -93h28M609 -93h56M886 -93h28M-666 -31h27M-583 -31h28M111 -31h28M167 -31h27M222 -31h28M444 -31h84M639 -31h83M861 -31h27M-916 31h28M139 31h55M278 31h27M333 31h28M416 31h28M639 31h27M777 31h28M944 31h28M-997 93h27M-942 93h28M28 93h27M526 93h83M693 93h27M776 93h27M-965 155h27M-883 155h55M-772 155h55M-607 155h55M-441 155h27M-193 155h27M469 155h28M579 155h28M745 155h27M-986 217h27M-877 217h55M-740 217h28M-685 217h27M-438 217h54M-219 217h27M-82 217h27M192 217h27M247 217h27M356 217h55M438 217h28M548 217h27M740 217h27M-978 279h27M-706 279h27M-489 279h54M-190 279h109M-54 279h54M27 279h27M81 279h28M272 279h27M489 279h54M679 279h27M815 279h27M869 279h109M-913 341h27M-860 341h27M-752 341h80M-537 341h27M-457 341h81M-269 341h27M-27 341h54M54 341h27M161 341h27M215 341h27M484 341h26M672 341h53M-635 403h27M-397 403h27M-344 403h27M-212 403h106M53 403h26M132 403h53M397 403h132M793 403h27M-803 465h26M-674 465h26M-622 465h26M-466 465h26M-363 465h26M-155 465h25M311 465h26M440 465h26M751 465h52M881 465h52"/><path stroke="#FEC965" stroke-width="24" d="M-352 988h31M-153 988h15M-122 988h15M-76 988h15M-46 988h15M138 988h15"/><path stroke="#FEC965" stroke-width="37" d="M-397 958h16M-199 958h17M-166 958h34M-83 958h33M0 958h17M50 958h16M99 958h17"/><path stroke="#FEC965" stroke-width="46" d="M-522 916h18M-360 916h18M-306 916h18M-234 916h54M-162 916h36M-108 916h54M72 916h18M126 916h18M162 916h18"/><path stroke="#FEC965" stroke-width="50" d="M-368 869h39M-271 869h19M-232 869h19M-116 869h39M97 869h19M155 869h19"/><path stroke="#FEC965" stroke-width="53" d="M-596 817h21M-534 817h20M-472 817h41M-246 817h20M-144 817h21M-103 817h21M0 817h21M62 817h20M205 817h21"/><path stroke="#FEC965" stroke-width="56" d="M-693 762h22M-541 762h21M-260 762h22M-173 762h21M-130 762h65M0 762h43"/><path stroke="#FEC965" stroke-width="58" d="M340 -706h23M-522 706h23M-250 706h46M-182 706h23M-136 706h45M0 706h23M136 706h23M227 706h45M409 706h22"/><path stroke="#FEC965" stroke-width="59" d="M-260 -647h23M308 -647h23M-615 647h23M-544 647h23M-189 647h47M-118 647h23M-47 647h23M24 647h23M189 647h24M260 647h24M379 647h23"/><path stroke="#FEC965" stroke-width="60" d="M-784 -587h24M-368 -587h25M858 -587h25M-883 587h74M-588 587h24M-539 587h24M-172 587h25M-25 587h25M221 587h73M319 587h24M392 587h25M490 587h25M662 587h24"/><path stroke="#FEC965" stroke-width="61" d="M-227 -526h25M758 -526h25M808 -526h26M-606 526h25M-530 526h25M-202 526h25M-51 526h26M25 526h51M202 526h51M303 526h25M429 526h26M581 526h25"/><path stroke="#FEC965" stroke-width="62" d="M-829 -465h52M803 -465h26M-925 -403h26M-820 -403h27M820 -403h26M899 -403h53M-295 -341h26M-242 -341h27M-161 -341h27M698 -341h27M913 -341h54M-190 -279h27M-81 -279h27M625 -279h27M842 -279h27M924 -279h27M-932 -217h83M-822 -217h27M-548 -217h55M-466 -217h28M-301 -217h54M-137 -217h55M630 -217h28M712 -217h28M767 -217h28M904 -217h28M-855 -155h193M-634 -155h55M-552 -155h28M-441 -155h55M-359 -155h28M-110 -155h27M-28 -155h56M634 -155h28M717 -155h111M910 -155h55M-831 -93h28M-720 -93h27M-526 -93h27M-443 -93h27M-249 -93h27M-28 -93h83M111 -93h28M803 -93h56M914 -93h28M970 -93h27M-1000 -31h56M-750 -31h56M-639 -31h28M-500 -31h28M-305 -31h27M-222 -31h83M-83 -31h83M28 -31h28M139 -31h28M305 -31h28M389 -31h27M611 -31h28M722 -31h111M888 -31h56M-1000 31h84M-750 31h28M-666 31h27M-500 31h56M-333 31h28M-250 31h28M-194 31h27M-28 31h28M194 31h28M305 31h28M389 31h27M528 31h27M666 31h84M888 31h28M-914 93h28M-803 93h27M-443 93h55M-166 93h55M-55 93h83M55 93h28M166 93h28M388 93h28M443 93h56M609 93h28M665 93h28M831 93h166M-497 155h28M-414 155h28M-303 155h27M-221 155h28M0 155h55M166 155h27M303 155h83M414 155h27M552 155h27M662 155h28M965 155h28M-959 217h27M-603 217h55M-274 217h55M-192 217h28M-110 217h28M0 217h27M164 217h28M219 217h28M274 217h82M411 217h27M466 217h27M712 217h28M959 217h27M-896 279h27M-815 279h54M-652 279h54M54 279h27M163 279h109M299 279h27M407 279h28M570 279h28M733 279h28M842 279h27M-779 341h27M-672 341h54M-510 341h53M-161 341h54M-54 341h27M27 341h27M81 341h26M242 341h27M295 341h27M376 341h27M510 341h27M645 341h27M725 341h27M806 341h54M886 341h27M-820 403h27M-661 403h26M-476 403h53M-79 403h79M79 403h27M264 403h27M344 403h26M714 403h26M820 403h26M899 403h26M-829 465h26M-415 465h26M-181 465h26M-130 465h26M-78 465h78M78 465h26M259 465h26M363 465h26M415 465h25M492 465h52M570 465h52M674 465h77M803 465h52"/><path stroke="#FEBA54" stroke-width="24" d="M-184 988h31M-138 988h16"/><path stroke="#FEBA54" stroke-width="46" d="M-180 916h18"/><path stroke="#FEBA54" stroke-width="50" d="M-213 869h78"/><path stroke="#FEBA54" stroke-width="53" d="M-226 817h21M-185 817h21"/><path stroke="#FEBA54" stroke-width="56" d="M-152 762h22"/><path stroke="#FEBA54" stroke-width="58" d="M-159 706h23M-91 706h46"/><path stroke="#FEBA54" stroke-width="59" d="M-805 647h24M-757 647h23M-95 647h24M-24 647h48"/><path stroke="#FEBA54" stroke-width="60" d="M-809 587h98"/><path stroke="#FEBA54" stroke-width="61" d="M-884 526h101M-733 526h26"/><path stroke="#FEBA54" stroke-width="62" d="M829 -465h26M881 -465h26M-384 -217h83M-164 -217h27M795 -217h27M-910 -155h27M-662 -155h28M-579 -155h27M-524 -155h27M-469 -155h28M-331 -155h28M-276 -155h83M-166 -155h56M-55 -155h27M828 -155h27M883 -155h27M-997 -93h27M-914 -93h83M-803 -93h27M-693 -93h28M-637 -93h28M-582 -93h56M-388 -93h56M-194 -93h28M693 -93h55M859 -93h27M-861 -31h28M-777 -31h27M-611 -31h28M-555 -31h27M-472 -31h56M-389 -31h56M-278 -31h56M0 -31h28M250 -31h28M833 -31h28M-528 31h28M-278 31h28M-222 31h28M-139 31h83M0 31h28M222 31h56M361 31h28M750 31h27M833 31h55M972 31h28M-388 93h28M-249 93h27M-83 93h28M277 93h28M332 93h56M416 93h27M-359 155h56M-276 155h55M193 155h83M441 155h28M-679 279h27M-598 279h28M-543 279h54M-886 341h26M-591 341h27M-952 403h27M-846 403h26M291 403h26M370 403h27M-881 465h52M181 465h26M337 465h26M389 465h26M466 465h26"/><path stroke="#FEAB49" stroke-width="53" d="M-205 817h20M-164 817h20"/><path stroke="#FEAB49" stroke-width="59" d="M-71 647h24"/><path stroke="#FEAB49" stroke-width="61" d="M-909 526h25M-758 526h25"/><path stroke="#FEAB49" stroke-width="62" d="M-386 -155h27M-303 -155h27M-193 -155h27M-83 -155h28M-748 -93h28M-665 -93h28M-609 -93h27M-499 -93h56M-277 -93h28M-222 -93h28M-166 -93h138M776 -93h27M-528 -31h28M-416 -31h27M-333 -31h28M-139 -31h28M-416 31h55M-305 31h27M-167 31h28M-471 93h28M-360 93h111M222 93h55M305 93h27M276 155h27"/><path stroke="#FD9640" stroke-width="62" d="M-416 -93h28M-332 -93h55M-111 -31h28"/>
</g>
<use href="#gr"/>
<use href="#ol" fill="none" stroke="#b8b8b0" stroke-width="0.9" vector-effect="non-scaling-stroke"/>
<use href="#fi"/>
<use href="#co"/>
</g>
<text x="698.15" y="1936.1" font-size="31.3" font-weight="bold" text-anchor="middle" textLength="509" lengthAdjust="spacingAndGlyphs">Dark Ages Cold Period [1–1000]</text>
<text x="399.55" y="1997.25" font-size="34.2" font-weight="bold">i</text>
<path d="M543.62 1987.5V1997.5" stroke="#3a3a3a" stroke-width="1.5"/>
<text x="543.62" y="1973.1" font-size="33" text-anchor="middle">60</text>
<path d="M646.62 1987.5V1997.5" stroke="#3a3a3a" stroke-width="1.5"/>
<text x="646.62" y="1973.1" font-size="33" text-anchor="middle">180</text>
<path d="M749.68 1987.5V1997.5" stroke="#3a3a3a" stroke-width="1.5"/>
<text x="749.68" y="1973.1" font-size="33" text-anchor="middle">−60</text>
<path d="M846.88 1987.5V1997.5" stroke="#3a3a3a" stroke-width="1.5"/>
<text x="846.88" y="1973.1" font-size="33" text-anchor="middle">60</text>
<path d="M385.6 2014.4H396.1" stroke="#3a3a3a" stroke-width="1.5"/>
<text x="375.5" y="2026.81" font-size="33" text-anchor="end">90</text>
<path d="M385.6 2063.33H396.1" stroke="#3a3a3a" stroke-width="1.5"/>
<text x="375.5" y="2075.73" font-size="33" text-anchor="end">60</text>
<path d="M385.6 2130.17H396.1" stroke="#3a3a3a" stroke-width="1.5"/>
<text x="375.5" y="2142.57" font-size="33" text-anchor="end">30</text>
<path d="M385.6 2198.75H396.1" stroke="#3a3a3a" stroke-width="1.5"/>
<text x="375.5" y="2211.15" font-size="33" text-anchor="end">0</text>
<path d="M385.6 2267.33H396.1" stroke="#3a3a3a" stroke-width="1.5"/>
<text x="375.5" y="2279.73" font-size="33" text-anchor="end">−30</text>
<path d="M385.6 2334.17H396.1" stroke="#3a3a3a" stroke-width="1.5"/>
<text x="375.5" y="2346.57" font-size="33" text-anchor="end">−60</text>
<path d="M385.6 2383.09H396.1" stroke="#3a3a3a" stroke-width="1.5"/>
<text x="375.5" y="2395.49" font-size="33" text-anchor="end">−90</text>
<rect x="426.31" y="2420.2" width="543.69" height="12.3" fill="url(#yl)" stroke="#3a3a28" stroke-width="1.2"/>
<path d="M426.31 2432.5V2442.5" stroke="#3a3a3a" stroke-width="1.5"/>
<text x="426.31" y="2469.3" font-size="33" text-anchor="middle">0</text>
<path d="M568.63 2432.5V2442.5" stroke="#3a3a3a" stroke-width="1.5"/>
<text x="568.63" y="2469.3" font-size="33" text-anchor="middle">500</text>
<path d="M710.96 2432.5V2442.5" stroke="#3a3a3a" stroke-width="1.5"/>
<text x="710.96" y="2469.3" font-size="33" text-anchor="middle">1000</text>
<path d="M853.29 2432.5V2442.5" stroke="#3a3a3a" stroke-width="1.5"/>
<text x="853.29" y="2469.3" font-size="33" text-anchor="middle">1500</text>
<text x="698.15" y="2509.8" font-size="33" text-anchor="middle" textLength="271" lengthAdjust="spacingAndGlyphs">90% range [years]</text>
<rect x="1011.5" y="1997.5" width="613.35" height="402.5" fill="none" stroke="#3a3a3a" stroke-width="1.6"/>
<g transform="translate(1318.17 2198.75) scale(0.283797 0.184345)">
<use href="#ol" fill="#FFFFCC"/>
<g clip-path="url(#cp)" fill="none">
<path stroke="#FFF1A9" stroke-width="24" d="M-490 -988h31M-31 -988h46M260 -988h15M459 -988h15M-535 988h15M-382 988h15M-245 988h16M122 988h16"/><path stroke="#FFF1A9" stroke-width="37" d="M-530 -958h33M-182 -958h16M-17 -958h17M17 -958h16M-430 958h33M149 958h17M315 958h16"/><path stroke="#FFF1A9" stroke-width="46" d="M-450 -916h18M-360 -916h18M-252 -916h36M180 -916h18M-288 916h18M-180 916h36M54 916h18M486 916h18M522 916h18M576 916h36"/><path stroke="#FFF1A9" stroke-width="50" d="M-503 -869h39M-387 -869h39M-271 -869h39M-155 -869h20M-77 -869h19M-77 869h19M619 869h39"/><path stroke="#FFF1A9" stroke-width="53" d="M-678 -817h21M-514 -817h21M-103 -817h21M21 -817h20M82 -817h21M616 817h21"/><path stroke="#FFF1A9" stroke-width="56" d="M-736 -762h43M-217 -762h22M22 -762h65M455 -762h21M-433 762h22M-346 762h43M368 762h22M498 762h22"/><path stroke="#FFF1A9" stroke-width="58" d="M-227 -706h23M-45 -706h22M227 -706h45M636 -706h22M-567 706h22M499 706h46"/><path stroke="#FFF1A9" stroke-width="59" d="M-757 -647h47M-544 -647h23M260 -647h24M521 -647h23M-592 647h24M-237 647h24M521 647h23"/><path stroke="#FFF1A9" stroke-width="60" d="M417 -587h24M-809 587h25M-490 587h24M-270 587h25"/><path stroke="#FFF1A9" stroke-width="61" d="M-455 -526h26M758 -526h50M733 526h25"/><path stroke="#FFF1A9" stroke-width="62" d="M0 -465h78M207 -465h52M518 -465h26M855 -465h26M-767 -403h27M-132 -403h26M0 -403h53M212 -403h52M-484 -341h27M-27 -341h27M27 -341h27M806 -341h27M-652 -279h54M-489 -279h54M136 -279h27M706 -279h27M788 -279h27M-959 -217h27M822 -217h27M877 -217h27M-938 -155h28M-414 -155h28M-665 -93h56M-139 -93h28M55 -93h56M277 -93h28M-666 -31h55M-56 -31h28M28 -31h28M-611 31h56M-389 31h56M500 31h28M-776 93h28M-388 93h56M-331 155h55M55 155h55M607 155h27M-301 217h27M82 217h28M712 217h28M-924 279h28M-489 279h54M-380 279h27M-272 279h28M81 279h28M136 279h27M272 279h27M326 279h54M489 279h54M815 279h27M869 279h27M924 279h27M-376 341h27M322 341h27M484 341h53M806 341h80M-846 403h53M-502 403h26M-449 403h26M-829 465h52M-492 465h52"/><path stroke="#FFE998" stroke-width="37" d="M-364 958h16"/><path stroke="#FFE998" stroke-width="46" d="M-108 916h18M180 916h18"/><path stroke="#FFE998" stroke-width="50" d="M194 -869h38M-194 869h39M-116 869h39M135 869h20M213 869h19"/><path stroke="#FFE998" stroke-width="53" d="M-308 817h144M-82 817h41M-21 817h21M144 817h20"/><path stroke="#FFE998" stroke-width="56" d="M0 -762h22M217 -762h21M-303 762h108M-87 762h44"/><path stroke="#FFE998" stroke-width="58" d="M-23 -706h23M295 -706h23M-749 706h23M-250 706h23M-68 706h68"/><path stroke="#FFE998" stroke-width="59" d="M-260 -647h23M-24 -647h24M331 -647h24M-828 647h23M-308 647h24M-95 647h71"/><path stroke="#FFE998" stroke-width="60" d="M-784 -587h24M-294 -587h49M-196 -587h49M466 -587h24M-833 587h24M-245 587h24M-196 587h49"/><path stroke="#FFE998" stroke-width="61" d="M-859 -526h25M-808 -526h50M-303 -526h50M-227 -526h25M51 -526h50M126 -526h26M253 -526h25M404 -526h25M455 -526h25M-152 526h26M76 526h25"/><path stroke="#FFE998" stroke-width="62" d="M-933 -465h26M-285 -465h26M-104 -465h26M311 -465h26M415 -465h25M-952 -403h27M-873 -403h27M-291 -403h27M-238 -403h26M-79 -403h26M53 -403h26M159 -403h26M423 -403h26M-913 -341h53M-618 -341h27M-215 -341h54M-107 -341h26M457 -341h27M591 -341h54M-81 -279h27M598 -279h54M-548 -217h82M274 -217h27M521 -217h27M658 -217h27M712 -217h28M849 -217h28M904 -217h28M-993 -155h28M-910 -155h27M-552 -155h55M-359 -155h28M0 -155h28M83 -155h27M276 -155h55M745 -155h27M855 -155h55M-166 -93h27M0 -93h55M499 -93h27M637 -93h28M693 -93h27M-500 -31h28M-389 -31h28M-139 -31h28M500 -31h55M639 -31h27M278 31h55M444 31h56M528 31h27M-166 93h27M277 93h55M443 93h28M526 93h28M-849 217h27M-978 279h27M-896 279h27M-353 279h27M-190 279h27M-81 279h27M-188 341h27M134 341h27M269 341h26M913 341h27M-53 403h27M0 403h26M106 403h26M285 465h26"/><path stroke="#FEE187" stroke-width="56" d="M-195 762h22"/><path stroke="#FEE187" stroke-width="58" d="M-227 706h91"/><path stroke="#FEE187" stroke-width="59" d="M-781 647h24M-213 647h71"/><path stroke="#FEE187" stroke-width="60" d="M270 -587h24M-221 587h25"/><path stroke="#FEE187" stroke-width="62" d="M-233 -465h26M337 -465h26M440 -465h26M317 -403h27M449 -403h27M269 -341h26M322 -341h27M403 -341h54M-217 -279h27M-109 -279h28M326 -279h136M717 -155h28M-217 279h27M-109 279h28"/><path stroke="#FEAB49" stroke-width="61" d="M-859 526h25"/><path stroke="#FEAB49" stroke-width="62" d="M-752 -341h27"/><path stroke="#FD9640" stroke-width="61" d="M278 -526h25"/><path stroke="#FD9640" stroke-width="62" d="M-925 -403h26M579 -155h28"/>
</g>
<use href="#gr"/>
<use href="#ol" fill="none" stroke="#b8b8b0" stroke-width="0.9" vector-effect="non-scaling-stroke"/>
<use href="#fi"/>
<use href="#co"/>
</g>
<text x="1318.17" y="1936.1" font-size="31.3" font-weight="bold" text-anchor="middle" textLength="410" lengthAdjust="spacingAndGlyphs">Little Ice Age [1001–2000]</text>
<text x="1011.3" y="1993.8" font-size="34.2" font-weight="bold">j</text>
<path d="M1161.28 1987.5V1997.5" stroke="#3a3a3a" stroke-width="1.5"/>
<text x="1161.28" y="1973.1" font-size="33" text-anchor="middle">60</text>
<path d="M1265.86 1987.5V1997.5" stroke="#3a3a3a" stroke-width="1.5"/>
<text x="1265.86" y="1973.1" font-size="33" text-anchor="middle">180</text>
<path d="M1370.49 1987.5V1997.5" stroke="#3a3a3a" stroke-width="1.5"/>
<text x="1370.49" y="1973.1" font-size="33" text-anchor="middle">−60</text>
<path d="M1469.18 1987.5V1997.5" stroke="#3a3a3a" stroke-width="1.5"/>
<text x="1469.18" y="1973.1" font-size="33" text-anchor="middle">60</text>
<path d="M1624.85 2014.4H1635.35" stroke="#3a3a3a" stroke-width="1.5"/>
<text x="1646.85" y="2026.81" font-size="33">90</text>
<path d="M1624.85 2063.33H1635.35" stroke="#3a3a3a" stroke-width="1.5"/>
<text x="1646.85" y="2075.73" font-size="33">60</text>
<path d="M1624.85 2130.17H1635.35" stroke="#3a3a3a" stroke-width="1.5"/>
<text x="1646.85" y="2142.57" font-size="33">30</text>
<path d="M1624.85 2198.75H1635.35" stroke="#3a3a3a" stroke-width="1.5"/>
<text x="1646.85" y="2211.15" font-size="33">0</text>
<path d="M1624.85 2267.33H1635.35" stroke="#3a3a3a" stroke-width="1.5"/>
<text x="1646.85" y="2279.73" font-size="33">−30</text>
<path d="M1624.85 2334.17H1635.35" stroke="#3a3a3a" stroke-width="1.5"/>
<text x="1646.85" y="2346.57" font-size="33">−60</text>
<path d="M1624.85 2383.09H1635.35" stroke="#3a3a3a" stroke-width="1.5"/>
<text x="1646.85" y="2395.49" font-size="33">−90</text>
<rect x="1042.17" y="2420.2" width="552.01" height="12.3" fill="url(#yl)" stroke="#3a3a28" stroke-width="1.2"/>
<path d="M1042.17 2432.5V2442.5" stroke="#3a3a3a" stroke-width="1.5"/>
<text x="1042.17" y="2469.3" font-size="33" text-anchor="middle">0</text>
<path d="M1186.67 2432.5V2442.5" stroke="#3a3a3a" stroke-width="1.5"/>
<text x="1186.67" y="2469.3" font-size="33" text-anchor="middle">500</text>
<path d="M1331.18 2432.5V2442.5" stroke="#3a3a3a" stroke-width="1.5"/>
<text x="1331.18" y="2469.3" font-size="33" text-anchor="middle">1000</text>
<path d="M1475.69 2432.5V2442.5" stroke="#3a3a3a" stroke-width="1.5"/>
<text x="1475.69" y="2469.3" font-size="33" text-anchor="middle">1500</text>
<text x="1318.17" y="2509.8" font-size="33" text-anchor="middle" textLength="271" lengthAdjust="spacingAndGlyphs">90% range [years]</text>
</svg></body></html>
